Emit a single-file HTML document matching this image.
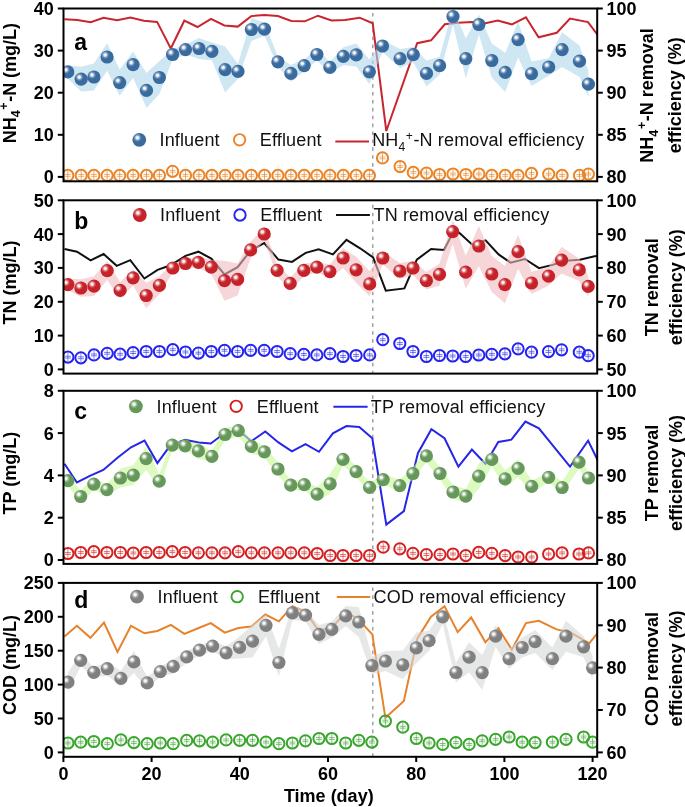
<!DOCTYPE html>
<html><head><meta charset="utf-8"><style>
html,body{margin:0;padding:0;background:#fff;}
svg{display:block;will-change:transform;}
text{font-family:"Liberation Sans",sans-serif;}
.tk{font-size:18px;font-weight:bold;fill:#000;}
.lt{font-size:23px;font-weight:bold;fill:#000;}
.lg{font-size:18px;letter-spacing:0.15px;fill:#111;}
</style></head><body>
<svg width="685" height="807" viewBox="0 0 685 807">
<defs>
<radialGradient id="hl" cx="0.5" cy="0.5" r="0.5"><stop offset="0" stop-color="#fff" stop-opacity="1"/><stop offset="0.3" stop-color="#fff" stop-opacity="0.88"/><stop offset="0.6" stop-color="#fff" stop-opacity="0.35"/><stop offset="1" stop-color="#fff" stop-opacity="0"/></radialGradient>
<clipPath id="clipa"><rect x="63.5" y="8.5" width="533.7" height="172.8"/></clipPath>
<clipPath id="clipb"><rect x="63.5" y="200.3" width="533.7" height="173.3"/></clipPath>
<clipPath id="clipc"><rect x="63.5" y="390.8" width="533.7" height="173.09999999999997"/></clipPath>
<clipPath id="clipd"><rect x="63.5" y="582.9" width="533.7" height="173.89999999999998"/></clipPath>
</defs>
<g clip-path="url(#clipa)">
<line x1="372.8" y1="8.5" x2="372.8" y2="181.3" stroke="#9c9c9c" stroke-width="1.4" stroke-dasharray="3.6,4.3" stroke-dashoffset="3.4"/>
<polyline points="64.5,19.2 77.4,19.9 90.7,22.3 103.5,17.8 117.2,20.3 130.5,17.6 143.8,20.7 157.1,21.9 170.8,48.5 184.3,20.7 197.5,27.0 211.0,18.8 224.4,25.5 237.8,26.6 251.2,16.1 264.5,15.0 277.9,16.1 291.3,21.0 304.7,21.3 318.0,15.7 331.5,20.4 345.1,19.9 359.6,17.7 372.7,23.3 386.3,131.0 417.2,43.2 431.1,40.3 444.8,24.3 458.1,22.7 472.0,21.9 485.4,23.3 497.8,20.6 511.9,24.4 525.9,17.3 538.6,37.3 556.8,32.8 570.0,18.6 588.0,22.1 600.0,38.0" fill="none" stroke="#c9252f" stroke-width="2" stroke-linejoin="miter"/>
<polygon points="67.8,65.3 81.2,66.8 93.9,63.5 107.1,43.2 119.7,69.5 133.1,51.6 146.5,72.9 159.4,61.1 172.6,49.5 185.5,44.6 199.0,38.0 211.9,42.4 225.1,46.6 238.0,64.1 251.4,18.0 264.5,22.5 277.9,56.8 290.9,65.1 304.2,59.6 316.9,48.5 329.9,61.9 343.3,47.3 356.2,43.4 369.4,59.4 382.5,40.0 400.1,49.1 413.3,46.9 426.5,60.4 439.6,56.7 453.0,8.5 465.8,38.6 478.9,14.5 491.8,43.5 505.2,52.9 518.1,21.6 531.5,61.4 548.7,58.3 562.1,32.3 579.5,45.4 588.4,71.2 588.4,97.2 579.5,77.0 562.1,66.9 548.7,75.7 531.5,86.0 518.1,57.6 505.2,91.9 491.8,77.5 478.9,34.5 465.8,78.6 453.0,24.5 439.6,74.7 426.5,86.4 413.3,62.3 400.1,68.1 382.5,52.0 369.4,84.2 356.2,66.4 343.3,65.3 329.9,72.9 316.9,60.5 304.2,71.6 290.9,81.7 277.9,66.8 264.5,35.7 251.4,41.0 238.0,78.7 225.1,92.6 211.9,60.4 199.0,59.0 185.5,54.6 172.6,59.5 159.4,93.9 146.5,107.9 133.1,77.8 119.7,95.7 107.1,70.8 93.9,90.5 81.2,91.6 67.8,78.5" fill="rgb(175,213,235)" fill-opacity="0.6"/>
<line x1="67.8" y1="170.8" x2="67.8" y2="180.0" stroke="#dca060" stroke-width="0.9"/>
<line x1="64.8" y1="174.5" x2="70.8" y2="174.5" stroke="#ec8426" stroke-width="0.8" stroke-opacity="0.8"/>
<line x1="64.8" y1="176.3" x2="70.8" y2="176.3" stroke="#ec8426" stroke-width="0.8" stroke-opacity="0.8"/>
<circle cx="67.8" cy="175.4" r="5.6" fill="none" stroke="#ec8426" stroke-width="2"/>
<line x1="81.2" y1="170.8" x2="81.2" y2="180.0" stroke="#dca060" stroke-width="0.9"/>
<line x1="78.2" y1="174.5" x2="84.2" y2="174.5" stroke="#ec8426" stroke-width="0.8" stroke-opacity="0.8"/>
<line x1="78.2" y1="176.3" x2="84.2" y2="176.3" stroke="#ec8426" stroke-width="0.8" stroke-opacity="0.8"/>
<circle cx="81.2" cy="175.4" r="5.6" fill="none" stroke="#ec8426" stroke-width="2"/>
<line x1="93.9" y1="170.8" x2="93.9" y2="180.0" stroke="#dca060" stroke-width="0.9"/>
<line x1="90.9" y1="174.5" x2="96.9" y2="174.5" stroke="#ec8426" stroke-width="0.8" stroke-opacity="0.8"/>
<line x1="90.9" y1="176.3" x2="96.9" y2="176.3" stroke="#ec8426" stroke-width="0.8" stroke-opacity="0.8"/>
<circle cx="93.9" cy="175.4" r="5.6" fill="none" stroke="#ec8426" stroke-width="2"/>
<line x1="107.1" y1="170.8" x2="107.1" y2="180.0" stroke="#dca060" stroke-width="0.9"/>
<line x1="104.1" y1="174.5" x2="110.1" y2="174.5" stroke="#ec8426" stroke-width="0.8" stroke-opacity="0.8"/>
<line x1="104.1" y1="176.3" x2="110.1" y2="176.3" stroke="#ec8426" stroke-width="0.8" stroke-opacity="0.8"/>
<circle cx="107.1" cy="175.4" r="5.6" fill="none" stroke="#ec8426" stroke-width="2"/>
<line x1="119.7" y1="170.8" x2="119.7" y2="180.0" stroke="#dca060" stroke-width="0.9"/>
<line x1="116.7" y1="174.5" x2="122.7" y2="174.5" stroke="#ec8426" stroke-width="0.8" stroke-opacity="0.8"/>
<line x1="116.7" y1="176.3" x2="122.7" y2="176.3" stroke="#ec8426" stroke-width="0.8" stroke-opacity="0.8"/>
<circle cx="119.7" cy="175.4" r="5.6" fill="none" stroke="#ec8426" stroke-width="2"/>
<line x1="133.1" y1="170.8" x2="133.1" y2="180.0" stroke="#dca060" stroke-width="0.9"/>
<line x1="130.1" y1="174.5" x2="136.1" y2="174.5" stroke="#ec8426" stroke-width="0.8" stroke-opacity="0.8"/>
<line x1="130.1" y1="176.3" x2="136.1" y2="176.3" stroke="#ec8426" stroke-width="0.8" stroke-opacity="0.8"/>
<circle cx="133.1" cy="175.4" r="5.6" fill="none" stroke="#ec8426" stroke-width="2"/>
<line x1="146.5" y1="170.8" x2="146.5" y2="180.0" stroke="#dca060" stroke-width="0.9"/>
<line x1="143.5" y1="174.5" x2="149.5" y2="174.5" stroke="#ec8426" stroke-width="0.8" stroke-opacity="0.8"/>
<line x1="143.5" y1="176.3" x2="149.5" y2="176.3" stroke="#ec8426" stroke-width="0.8" stroke-opacity="0.8"/>
<circle cx="146.5" cy="175.4" r="5.6" fill="none" stroke="#ec8426" stroke-width="2"/>
<line x1="159.4" y1="170.8" x2="159.4" y2="180.0" stroke="#dca060" stroke-width="0.9"/>
<line x1="156.4" y1="174.5" x2="162.4" y2="174.5" stroke="#ec8426" stroke-width="0.8" stroke-opacity="0.8"/>
<line x1="156.4" y1="176.3" x2="162.4" y2="176.3" stroke="#ec8426" stroke-width="0.8" stroke-opacity="0.8"/>
<circle cx="159.4" cy="175.4" r="5.6" fill="none" stroke="#ec8426" stroke-width="2"/>
<line x1="172.6" y1="166.7" x2="172.6" y2="175.9" stroke="#dca060" stroke-width="0.9"/>
<line x1="169.6" y1="170.4" x2="175.6" y2="170.4" stroke="#ec8426" stroke-width="0.8" stroke-opacity="0.8"/>
<line x1="169.6" y1="172.2" x2="175.6" y2="172.2" stroke="#ec8426" stroke-width="0.8" stroke-opacity="0.8"/>
<circle cx="172.6" cy="171.3" r="5.6" fill="none" stroke="#ec8426" stroke-width="2"/>
<line x1="185.5" y1="170.8" x2="185.5" y2="180.0" stroke="#dca060" stroke-width="0.9"/>
<line x1="182.5" y1="174.5" x2="188.5" y2="174.5" stroke="#ec8426" stroke-width="0.8" stroke-opacity="0.8"/>
<line x1="182.5" y1="176.3" x2="188.5" y2="176.3" stroke="#ec8426" stroke-width="0.8" stroke-opacity="0.8"/>
<circle cx="185.5" cy="175.4" r="5.6" fill="none" stroke="#ec8426" stroke-width="2"/>
<line x1="199.0" y1="170.8" x2="199.0" y2="180.0" stroke="#dca060" stroke-width="0.9"/>
<line x1="196.0" y1="174.5" x2="202.0" y2="174.5" stroke="#ec8426" stroke-width="0.8" stroke-opacity="0.8"/>
<line x1="196.0" y1="176.3" x2="202.0" y2="176.3" stroke="#ec8426" stroke-width="0.8" stroke-opacity="0.8"/>
<circle cx="199.0" cy="175.4" r="5.6" fill="none" stroke="#ec8426" stroke-width="2"/>
<line x1="211.9" y1="170.8" x2="211.9" y2="180.0" stroke="#dca060" stroke-width="0.9"/>
<line x1="208.9" y1="174.5" x2="214.9" y2="174.5" stroke="#ec8426" stroke-width="0.8" stroke-opacity="0.8"/>
<line x1="208.9" y1="176.3" x2="214.9" y2="176.3" stroke="#ec8426" stroke-width="0.8" stroke-opacity="0.8"/>
<circle cx="211.9" cy="175.4" r="5.6" fill="none" stroke="#ec8426" stroke-width="2"/>
<line x1="225.1" y1="170.8" x2="225.1" y2="180.0" stroke="#dca060" stroke-width="0.9"/>
<line x1="222.1" y1="174.5" x2="228.1" y2="174.5" stroke="#ec8426" stroke-width="0.8" stroke-opacity="0.8"/>
<line x1="222.1" y1="176.3" x2="228.1" y2="176.3" stroke="#ec8426" stroke-width="0.8" stroke-opacity="0.8"/>
<circle cx="225.1" cy="175.4" r="5.6" fill="none" stroke="#ec8426" stroke-width="2"/>
<line x1="238.0" y1="170.8" x2="238.0" y2="180.0" stroke="#dca060" stroke-width="0.9"/>
<line x1="235.0" y1="174.5" x2="241.0" y2="174.5" stroke="#ec8426" stroke-width="0.8" stroke-opacity="0.8"/>
<line x1="235.0" y1="176.3" x2="241.0" y2="176.3" stroke="#ec8426" stroke-width="0.8" stroke-opacity="0.8"/>
<circle cx="238.0" cy="175.4" r="5.6" fill="none" stroke="#ec8426" stroke-width="2"/>
<line x1="251.4" y1="170.8" x2="251.4" y2="180.0" stroke="#dca060" stroke-width="0.9"/>
<line x1="248.4" y1="174.5" x2="254.4" y2="174.5" stroke="#ec8426" stroke-width="0.8" stroke-opacity="0.8"/>
<line x1="248.4" y1="176.3" x2="254.4" y2="176.3" stroke="#ec8426" stroke-width="0.8" stroke-opacity="0.8"/>
<circle cx="251.4" cy="175.4" r="5.6" fill="none" stroke="#ec8426" stroke-width="2"/>
<line x1="264.5" y1="170.8" x2="264.5" y2="180.0" stroke="#dca060" stroke-width="0.9"/>
<line x1="261.5" y1="174.5" x2="267.5" y2="174.5" stroke="#ec8426" stroke-width="0.8" stroke-opacity="0.8"/>
<line x1="261.5" y1="176.3" x2="267.5" y2="176.3" stroke="#ec8426" stroke-width="0.8" stroke-opacity="0.8"/>
<circle cx="264.5" cy="175.4" r="5.6" fill="none" stroke="#ec8426" stroke-width="2"/>
<line x1="277.9" y1="170.8" x2="277.9" y2="180.0" stroke="#dca060" stroke-width="0.9"/>
<line x1="274.9" y1="174.5" x2="280.9" y2="174.5" stroke="#ec8426" stroke-width="0.8" stroke-opacity="0.8"/>
<line x1="274.9" y1="176.3" x2="280.9" y2="176.3" stroke="#ec8426" stroke-width="0.8" stroke-opacity="0.8"/>
<circle cx="277.9" cy="175.4" r="5.6" fill="none" stroke="#ec8426" stroke-width="2"/>
<line x1="290.9" y1="170.8" x2="290.9" y2="180.0" stroke="#dca060" stroke-width="0.9"/>
<line x1="287.9" y1="174.5" x2="293.9" y2="174.5" stroke="#ec8426" stroke-width="0.8" stroke-opacity="0.8"/>
<line x1="287.9" y1="176.3" x2="293.9" y2="176.3" stroke="#ec8426" stroke-width="0.8" stroke-opacity="0.8"/>
<circle cx="290.9" cy="175.4" r="5.6" fill="none" stroke="#ec8426" stroke-width="2"/>
<line x1="304.2" y1="170.8" x2="304.2" y2="180.0" stroke="#dca060" stroke-width="0.9"/>
<line x1="301.2" y1="174.5" x2="307.2" y2="174.5" stroke="#ec8426" stroke-width="0.8" stroke-opacity="0.8"/>
<line x1="301.2" y1="176.3" x2="307.2" y2="176.3" stroke="#ec8426" stroke-width="0.8" stroke-opacity="0.8"/>
<circle cx="304.2" cy="175.4" r="5.6" fill="none" stroke="#ec8426" stroke-width="2"/>
<line x1="316.9" y1="170.8" x2="316.9" y2="180.0" stroke="#dca060" stroke-width="0.9"/>
<line x1="313.9" y1="174.5" x2="319.9" y2="174.5" stroke="#ec8426" stroke-width="0.8" stroke-opacity="0.8"/>
<line x1="313.9" y1="176.3" x2="319.9" y2="176.3" stroke="#ec8426" stroke-width="0.8" stroke-opacity="0.8"/>
<circle cx="316.9" cy="175.4" r="5.6" fill="none" stroke="#ec8426" stroke-width="2"/>
<line x1="329.9" y1="170.8" x2="329.9" y2="180.0" stroke="#dca060" stroke-width="0.9"/>
<line x1="326.9" y1="174.5" x2="332.9" y2="174.5" stroke="#ec8426" stroke-width="0.8" stroke-opacity="0.8"/>
<line x1="326.9" y1="176.3" x2="332.9" y2="176.3" stroke="#ec8426" stroke-width="0.8" stroke-opacity="0.8"/>
<circle cx="329.9" cy="175.4" r="5.6" fill="none" stroke="#ec8426" stroke-width="2"/>
<line x1="343.3" y1="170.8" x2="343.3" y2="180.0" stroke="#dca060" stroke-width="0.9"/>
<line x1="340.3" y1="174.5" x2="346.3" y2="174.5" stroke="#ec8426" stroke-width="0.8" stroke-opacity="0.8"/>
<line x1="340.3" y1="176.3" x2="346.3" y2="176.3" stroke="#ec8426" stroke-width="0.8" stroke-opacity="0.8"/>
<circle cx="343.3" cy="175.4" r="5.6" fill="none" stroke="#ec8426" stroke-width="2"/>
<line x1="356.2" y1="170.8" x2="356.2" y2="180.0" stroke="#dca060" stroke-width="0.9"/>
<line x1="353.2" y1="174.5" x2="359.2" y2="174.5" stroke="#ec8426" stroke-width="0.8" stroke-opacity="0.8"/>
<line x1="353.2" y1="176.3" x2="359.2" y2="176.3" stroke="#ec8426" stroke-width="0.8" stroke-opacity="0.8"/>
<circle cx="356.2" cy="175.4" r="5.6" fill="none" stroke="#ec8426" stroke-width="2"/>
<line x1="369.4" y1="170.8" x2="369.4" y2="180.0" stroke="#dca060" stroke-width="0.9"/>
<line x1="366.4" y1="174.5" x2="372.4" y2="174.5" stroke="#ec8426" stroke-width="0.8" stroke-opacity="0.8"/>
<line x1="366.4" y1="176.3" x2="372.4" y2="176.3" stroke="#ec8426" stroke-width="0.8" stroke-opacity="0.8"/>
<circle cx="369.4" cy="175.4" r="5.6" fill="none" stroke="#ec8426" stroke-width="2"/>
<line x1="382.5" y1="153.3" x2="382.5" y2="162.5" stroke="#dca060" stroke-width="0.9"/>
<line x1="379.5" y1="157.0" x2="385.5" y2="157.0" stroke="#ec8426" stroke-width="0.8" stroke-opacity="0.8"/>
<line x1="379.5" y1="158.8" x2="385.5" y2="158.8" stroke="#ec8426" stroke-width="0.8" stroke-opacity="0.8"/>
<circle cx="382.5" cy="157.9" r="5.6" fill="none" stroke="#ec8426" stroke-width="2"/>
<line x1="400.1" y1="162.0" x2="400.1" y2="171.2" stroke="#dca060" stroke-width="0.9"/>
<line x1="397.1" y1="165.7" x2="403.1" y2="165.7" stroke="#ec8426" stroke-width="0.8" stroke-opacity="0.8"/>
<line x1="397.1" y1="167.5" x2="403.1" y2="167.5" stroke="#ec8426" stroke-width="0.8" stroke-opacity="0.8"/>
<circle cx="400.1" cy="166.6" r="5.6" fill="none" stroke="#ec8426" stroke-width="2"/>
<line x1="413.3" y1="167.8" x2="413.3" y2="177.0" stroke="#dca060" stroke-width="0.9"/>
<line x1="410.3" y1="171.5" x2="416.3" y2="171.5" stroke="#ec8426" stroke-width="0.8" stroke-opacity="0.8"/>
<line x1="410.3" y1="173.3" x2="416.3" y2="173.3" stroke="#ec8426" stroke-width="0.8" stroke-opacity="0.8"/>
<circle cx="413.3" cy="172.4" r="5.6" fill="none" stroke="#ec8426" stroke-width="2"/>
<line x1="426.5" y1="168.5" x2="426.5" y2="177.7" stroke="#dca060" stroke-width="0.9"/>
<line x1="423.5" y1="172.2" x2="429.5" y2="172.2" stroke="#ec8426" stroke-width="0.8" stroke-opacity="0.8"/>
<line x1="423.5" y1="174.0" x2="429.5" y2="174.0" stroke="#ec8426" stroke-width="0.8" stroke-opacity="0.8"/>
<circle cx="426.5" cy="173.1" r="5.6" fill="none" stroke="#ec8426" stroke-width="2"/>
<line x1="439.6" y1="169.9" x2="439.6" y2="179.1" stroke="#dca060" stroke-width="0.9"/>
<line x1="436.6" y1="173.6" x2="442.6" y2="173.6" stroke="#ec8426" stroke-width="0.8" stroke-opacity="0.8"/>
<line x1="436.6" y1="175.4" x2="442.6" y2="175.4" stroke="#ec8426" stroke-width="0.8" stroke-opacity="0.8"/>
<circle cx="439.6" cy="174.5" r="5.6" fill="none" stroke="#ec8426" stroke-width="2"/>
<line x1="453.0" y1="169.4" x2="453.0" y2="178.6" stroke="#dca060" stroke-width="0.9"/>
<line x1="450.0" y1="173.1" x2="456.0" y2="173.1" stroke="#ec8426" stroke-width="0.8" stroke-opacity="0.8"/>
<line x1="450.0" y1="174.9" x2="456.0" y2="174.9" stroke="#ec8426" stroke-width="0.8" stroke-opacity="0.8"/>
<circle cx="453.0" cy="174.0" r="5.6" fill="none" stroke="#ec8426" stroke-width="2"/>
<line x1="465.8" y1="169.9" x2="465.8" y2="179.1" stroke="#dca060" stroke-width="0.9"/>
<line x1="462.8" y1="173.6" x2="468.8" y2="173.6" stroke="#ec8426" stroke-width="0.8" stroke-opacity="0.8"/>
<line x1="462.8" y1="175.4" x2="468.8" y2="175.4" stroke="#ec8426" stroke-width="0.8" stroke-opacity="0.8"/>
<circle cx="465.8" cy="174.5" r="5.6" fill="none" stroke="#ec8426" stroke-width="2"/>
<line x1="478.9" y1="169.4" x2="478.9" y2="178.6" stroke="#dca060" stroke-width="0.9"/>
<line x1="475.9" y1="173.1" x2="481.9" y2="173.1" stroke="#ec8426" stroke-width="0.8" stroke-opacity="0.8"/>
<line x1="475.9" y1="174.9" x2="481.9" y2="174.9" stroke="#ec8426" stroke-width="0.8" stroke-opacity="0.8"/>
<circle cx="478.9" cy="174.0" r="5.6" fill="none" stroke="#ec8426" stroke-width="2"/>
<line x1="491.8" y1="170.8" x2="491.8" y2="180.0" stroke="#dca060" stroke-width="0.9"/>
<line x1="488.8" y1="174.5" x2="494.8" y2="174.5" stroke="#ec8426" stroke-width="0.8" stroke-opacity="0.8"/>
<line x1="488.8" y1="176.3" x2="494.8" y2="176.3" stroke="#ec8426" stroke-width="0.8" stroke-opacity="0.8"/>
<circle cx="491.8" cy="175.4" r="5.6" fill="none" stroke="#ec8426" stroke-width="2"/>
<line x1="505.2" y1="170.8" x2="505.2" y2="180.0" stroke="#dca060" stroke-width="0.9"/>
<line x1="502.2" y1="174.5" x2="508.2" y2="174.5" stroke="#ec8426" stroke-width="0.8" stroke-opacity="0.8"/>
<line x1="502.2" y1="176.3" x2="508.2" y2="176.3" stroke="#ec8426" stroke-width="0.8" stroke-opacity="0.8"/>
<circle cx="505.2" cy="175.4" r="5.6" fill="none" stroke="#ec8426" stroke-width="2"/>
<line x1="518.1" y1="170.8" x2="518.1" y2="180.0" stroke="#dca060" stroke-width="0.9"/>
<line x1="515.1" y1="174.5" x2="521.1" y2="174.5" stroke="#ec8426" stroke-width="0.8" stroke-opacity="0.8"/>
<line x1="515.1" y1="176.3" x2="521.1" y2="176.3" stroke="#ec8426" stroke-width="0.8" stroke-opacity="0.8"/>
<circle cx="518.1" cy="175.4" r="5.6" fill="none" stroke="#ec8426" stroke-width="2"/>
<line x1="531.5" y1="168.8" x2="531.5" y2="178.0" stroke="#dca060" stroke-width="0.9"/>
<line x1="528.5" y1="172.5" x2="534.5" y2="172.5" stroke="#ec8426" stroke-width="0.8" stroke-opacity="0.8"/>
<line x1="528.5" y1="174.3" x2="534.5" y2="174.3" stroke="#ec8426" stroke-width="0.8" stroke-opacity="0.8"/>
<circle cx="531.5" cy="173.4" r="5.6" fill="none" stroke="#ec8426" stroke-width="2"/>
<line x1="548.7" y1="169.5" x2="548.7" y2="178.7" stroke="#dca060" stroke-width="0.9"/>
<line x1="545.7" y1="173.2" x2="551.7" y2="173.2" stroke="#ec8426" stroke-width="0.8" stroke-opacity="0.8"/>
<line x1="545.7" y1="175.0" x2="551.7" y2="175.0" stroke="#ec8426" stroke-width="0.8" stroke-opacity="0.8"/>
<circle cx="548.7" cy="174.1" r="5.6" fill="none" stroke="#ec8426" stroke-width="2"/>
<line x1="562.1" y1="170.8" x2="562.1" y2="180.0" stroke="#dca060" stroke-width="0.9"/>
<line x1="559.1" y1="174.5" x2="565.1" y2="174.5" stroke="#ec8426" stroke-width="0.8" stroke-opacity="0.8"/>
<line x1="559.1" y1="176.3" x2="565.1" y2="176.3" stroke="#ec8426" stroke-width="0.8" stroke-opacity="0.8"/>
<circle cx="562.1" cy="175.4" r="5.6" fill="none" stroke="#ec8426" stroke-width="2"/>
<line x1="579.5" y1="170.8" x2="579.5" y2="180.0" stroke="#dca060" stroke-width="0.9"/>
<line x1="576.5" y1="174.5" x2="582.5" y2="174.5" stroke="#ec8426" stroke-width="0.8" stroke-opacity="0.8"/>
<line x1="576.5" y1="176.3" x2="582.5" y2="176.3" stroke="#ec8426" stroke-width="0.8" stroke-opacity="0.8"/>
<circle cx="579.5" cy="175.4" r="5.6" fill="none" stroke="#ec8426" stroke-width="2"/>
<line x1="588.4" y1="169.5" x2="588.4" y2="178.7" stroke="#dca060" stroke-width="0.9"/>
<line x1="585.4" y1="173.2" x2="591.4" y2="173.2" stroke="#ec8426" stroke-width="0.8" stroke-opacity="0.8"/>
<line x1="585.4" y1="175.0" x2="591.4" y2="175.0" stroke="#ec8426" stroke-width="0.8" stroke-opacity="0.8"/>
<circle cx="588.4" cy="174.1" r="5.6" fill="none" stroke="#ec8426" stroke-width="2"/>
<circle cx="67.8" cy="71.9" r="6.6" fill="#3a6b9f"/>
<circle cx="65.9" cy="69.8" r="4.09" fill="url(#hl)"/>
<circle cx="81.2" cy="79.2" r="6.6" fill="#3a6b9f"/>
<circle cx="79.3" cy="77.1" r="4.09" fill="url(#hl)"/>
<circle cx="93.9" cy="77.0" r="6.6" fill="#3a6b9f"/>
<circle cx="92.0" cy="74.9" r="4.09" fill="url(#hl)"/>
<circle cx="107.1" cy="57.0" r="6.6" fill="#3a6b9f"/>
<circle cx="105.2" cy="54.9" r="4.09" fill="url(#hl)"/>
<circle cx="119.7" cy="82.6" r="6.6" fill="#3a6b9f"/>
<circle cx="117.8" cy="80.5" r="4.09" fill="url(#hl)"/>
<circle cx="133.1" cy="64.7" r="6.6" fill="#3a6b9f"/>
<circle cx="131.2" cy="62.6" r="4.09" fill="url(#hl)"/>
<circle cx="146.5" cy="90.4" r="6.6" fill="#3a6b9f"/>
<circle cx="144.6" cy="88.3" r="4.09" fill="url(#hl)"/>
<circle cx="159.4" cy="77.5" r="6.6" fill="#3a6b9f"/>
<circle cx="157.5" cy="75.4" r="4.09" fill="url(#hl)"/>
<circle cx="172.6" cy="54.5" r="6.6" fill="#3a6b9f"/>
<circle cx="170.7" cy="52.4" r="4.09" fill="url(#hl)"/>
<circle cx="185.5" cy="49.6" r="6.6" fill="#3a6b9f"/>
<circle cx="183.6" cy="47.5" r="4.09" fill="url(#hl)"/>
<circle cx="199.0" cy="48.5" r="6.6" fill="#3a6b9f"/>
<circle cx="197.1" cy="46.4" r="4.09" fill="url(#hl)"/>
<circle cx="211.9" cy="51.4" r="6.6" fill="#3a6b9f"/>
<circle cx="210.0" cy="49.3" r="4.09" fill="url(#hl)"/>
<circle cx="225.1" cy="69.6" r="6.6" fill="#3a6b9f"/>
<circle cx="223.2" cy="67.5" r="4.09" fill="url(#hl)"/>
<circle cx="238.0" cy="71.4" r="6.6" fill="#3a6b9f"/>
<circle cx="236.1" cy="69.3" r="4.09" fill="url(#hl)"/>
<circle cx="251.4" cy="29.5" r="6.6" fill="#3a6b9f"/>
<circle cx="249.5" cy="27.4" r="4.09" fill="url(#hl)"/>
<circle cx="264.5" cy="29.1" r="6.6" fill="#3a6b9f"/>
<circle cx="262.6" cy="27.0" r="4.09" fill="url(#hl)"/>
<circle cx="277.9" cy="61.8" r="6.6" fill="#3a6b9f"/>
<circle cx="276.0" cy="59.7" r="4.09" fill="url(#hl)"/>
<circle cx="290.9" cy="73.4" r="6.6" fill="#3a6b9f"/>
<circle cx="289.0" cy="71.3" r="4.09" fill="url(#hl)"/>
<circle cx="304.2" cy="65.6" r="6.6" fill="#3a6b9f"/>
<circle cx="302.3" cy="63.5" r="4.09" fill="url(#hl)"/>
<circle cx="316.9" cy="54.5" r="6.6" fill="#3a6b9f"/>
<circle cx="315.0" cy="52.4" r="4.09" fill="url(#hl)"/>
<circle cx="329.9" cy="67.4" r="6.6" fill="#3a6b9f"/>
<circle cx="328.0" cy="65.3" r="4.09" fill="url(#hl)"/>
<circle cx="343.3" cy="56.3" r="6.6" fill="#3a6b9f"/>
<circle cx="341.4" cy="54.2" r="4.09" fill="url(#hl)"/>
<circle cx="356.2" cy="54.9" r="6.6" fill="#3a6b9f"/>
<circle cx="354.3" cy="52.8" r="4.09" fill="url(#hl)"/>
<circle cx="369.4" cy="71.8" r="6.6" fill="#3a6b9f"/>
<circle cx="367.5" cy="69.7" r="4.09" fill="url(#hl)"/>
<circle cx="382.5" cy="46.0" r="6.6" fill="#3a6b9f"/>
<circle cx="380.6" cy="43.9" r="4.09" fill="url(#hl)"/>
<circle cx="400.1" cy="58.6" r="6.6" fill="#3a6b9f"/>
<circle cx="398.2" cy="56.5" r="4.09" fill="url(#hl)"/>
<circle cx="413.3" cy="54.6" r="6.6" fill="#3a6b9f"/>
<circle cx="411.4" cy="52.5" r="4.09" fill="url(#hl)"/>
<circle cx="426.5" cy="73.4" r="6.6" fill="#3a6b9f"/>
<circle cx="424.6" cy="71.3" r="4.09" fill="url(#hl)"/>
<circle cx="439.6" cy="65.7" r="6.6" fill="#3a6b9f"/>
<circle cx="437.7" cy="63.6" r="4.09" fill="url(#hl)"/>
<circle cx="453.0" cy="16.5" r="6.6" fill="#3a6b9f"/>
<circle cx="451.1" cy="14.4" r="4.09" fill="url(#hl)"/>
<circle cx="465.8" cy="58.6" r="6.6" fill="#3a6b9f"/>
<circle cx="463.9" cy="56.5" r="4.09" fill="url(#hl)"/>
<circle cx="478.9" cy="24.5" r="6.6" fill="#3a6b9f"/>
<circle cx="477.0" cy="22.4" r="4.09" fill="url(#hl)"/>
<circle cx="491.8" cy="60.5" r="6.6" fill="#3a6b9f"/>
<circle cx="489.9" cy="58.4" r="4.09" fill="url(#hl)"/>
<circle cx="505.2" cy="72.4" r="6.6" fill="#3a6b9f"/>
<circle cx="503.3" cy="70.3" r="4.09" fill="url(#hl)"/>
<circle cx="518.1" cy="39.6" r="6.6" fill="#3a6b9f"/>
<circle cx="516.2" cy="37.5" r="4.09" fill="url(#hl)"/>
<circle cx="531.5" cy="73.7" r="6.6" fill="#3a6b9f"/>
<circle cx="529.6" cy="71.6" r="4.09" fill="url(#hl)"/>
<circle cx="548.7" cy="67.0" r="6.6" fill="#3a6b9f"/>
<circle cx="546.8" cy="64.9" r="4.09" fill="url(#hl)"/>
<circle cx="562.1" cy="49.6" r="6.6" fill="#3a6b9f"/>
<circle cx="560.2" cy="47.5" r="4.09" fill="url(#hl)"/>
<circle cx="579.5" cy="61.2" r="6.6" fill="#3a6b9f"/>
<circle cx="577.6" cy="59.1" r="4.09" fill="url(#hl)"/>
<circle cx="588.4" cy="84.2" r="6.6" fill="#3a6b9f"/>
<circle cx="586.5" cy="82.1" r="4.09" fill="url(#hl)"/>
</g>
<rect x="63.5" y="8.5" width="533.7" height="172.8" fill="none" stroke="#000" stroke-width="2"/>
<g clip-path="url(#clipb)">
<line x1="372.8" y1="200.3" x2="372.8" y2="373.6" stroke="#9c9c9c" stroke-width="1.4" stroke-dasharray="3.6,4.3" stroke-dashoffset="3.4"/>
<polyline points="64.5,249.0 77.0,251.7 90.6,260.3 103.6,254.0 116.7,265.8 130.3,260.1 144.4,278.5 157.6,269.9 170.5,265.3 185.5,255.8 198.4,251.7 211.3,258.5 224.5,274.4 237.6,267.1 250.6,250.6 264.2,243.1 278.4,259.6 292.0,261.9 305.7,252.8 318.6,249.4 332.9,254.4 346.5,239.9 360.1,248.3 373.1,257.4 385.8,290.7 404.4,288.4 416.8,259.6 431.1,249.0 444.0,249.9 455.0,228.6 459.5,233.1 472.0,244.5 485.6,240.4 498.6,254.4 510.6,262.6 524.9,259.0 539.0,268.1 552.6,264.9 566.2,260.8 579.8,259.7 594.6,256.3 600.0,256.0" fill="none" stroke="#111111" stroke-width="2" stroke-linejoin="miter"/>
<polygon points="67.9,278.6 80.9,279.3 94.0,276.4 107.2,261.1 120.1,281.9 133.1,269.8 146.2,282.8 159.4,276.3 172.8,263.5 185.5,259.5 198.4,256.3 211.3,260.1 224.5,260.7 237.6,263.4 250.6,241.7 264.2,228.0 277.1,264.3 290.2,277.4 303.8,263.8 316.8,262.1 329.9,264.6 343.1,248.0 356.1,256.8 369.7,271.2 382.8,251.5 399.8,263.0 413.0,261.0 426.4,272.0 439.5,263.4 452.7,219.7 465.7,255.7 478.8,226.0 491.8,256.0 504.9,266.0 518.1,234.7 531.5,272.0 548.5,266.9 561.6,246.8 579.3,258.8 588.2,275.8 588.2,297.0 579.3,281.0 561.6,273.4 548.5,285.5 531.5,294.0 518.1,268.7 504.9,303.2 491.8,292.0 478.8,266.0 465.7,288.7 452.7,243.7 439.5,285.4 426.4,289.4 413.0,275.0 399.8,279.0 382.8,264.5 369.7,296.6 356.1,282.8 343.1,268.0 329.9,278.6 316.8,272.1 303.8,276.8 290.2,289.4 277.1,276.3 264.2,240.0 250.6,258.1 237.6,295.4 224.5,300.7 211.3,274.1 198.4,268.3 185.5,267.5 172.8,272.5 159.4,294.3 146.2,308.2 133.1,285.8 120.1,298.7 107.2,280.1 94.0,296.0 80.9,296.7 67.9,290.6" fill="rgb(240,187,190)" fill-opacity="0.6"/>
<line x1="67.9" y1="352.5" x2="67.9" y2="361.7" stroke="#8080f0" stroke-width="0.9"/>
<line x1="64.9" y1="356.2" x2="70.9" y2="356.2" stroke="#2424f0" stroke-width="0.8" stroke-opacity="0.8"/>
<line x1="64.9" y1="358.0" x2="70.9" y2="358.0" stroke="#2424f0" stroke-width="0.8" stroke-opacity="0.8"/>
<circle cx="67.9" cy="357.1" r="5.6" fill="none" stroke="#2424f0" stroke-width="2"/>
<line x1="80.9" y1="353.2" x2="80.9" y2="362.4" stroke="#8080f0" stroke-width="0.9"/>
<line x1="77.9" y1="356.9" x2="83.9" y2="356.9" stroke="#2424f0" stroke-width="0.8" stroke-opacity="0.8"/>
<line x1="77.9" y1="358.7" x2="83.9" y2="358.7" stroke="#2424f0" stroke-width="0.8" stroke-opacity="0.8"/>
<circle cx="80.9" cy="357.8" r="5.6" fill="none" stroke="#2424f0" stroke-width="2"/>
<line x1="94.0" y1="350.3" x2="94.0" y2="359.5" stroke="#8080f0" stroke-width="0.9"/>
<line x1="91.0" y1="354.0" x2="97.0" y2="354.0" stroke="#2424f0" stroke-width="0.8" stroke-opacity="0.8"/>
<line x1="91.0" y1="355.8" x2="97.0" y2="355.8" stroke="#2424f0" stroke-width="0.8" stroke-opacity="0.8"/>
<circle cx="94.0" cy="354.9" r="5.6" fill="none" stroke="#2424f0" stroke-width="2"/>
<line x1="107.2" y1="348.7" x2="107.2" y2="357.9" stroke="#8080f0" stroke-width="0.9"/>
<line x1="104.2" y1="352.4" x2="110.2" y2="352.4" stroke="#2424f0" stroke-width="0.8" stroke-opacity="0.8"/>
<line x1="104.2" y1="354.2" x2="110.2" y2="354.2" stroke="#2424f0" stroke-width="0.8" stroke-opacity="0.8"/>
<circle cx="107.2" cy="353.3" r="5.6" fill="none" stroke="#2424f0" stroke-width="2"/>
<line x1="120.1" y1="349.6" x2="120.1" y2="358.8" stroke="#8080f0" stroke-width="0.9"/>
<line x1="117.1" y1="353.3" x2="123.1" y2="353.3" stroke="#2424f0" stroke-width="0.8" stroke-opacity="0.8"/>
<line x1="117.1" y1="355.1" x2="123.1" y2="355.1" stroke="#2424f0" stroke-width="0.8" stroke-opacity="0.8"/>
<circle cx="120.1" cy="354.2" r="5.6" fill="none" stroke="#2424f0" stroke-width="2"/>
<line x1="133.1" y1="348.0" x2="133.1" y2="357.2" stroke="#8080f0" stroke-width="0.9"/>
<line x1="130.1" y1="351.7" x2="136.1" y2="351.7" stroke="#2424f0" stroke-width="0.8" stroke-opacity="0.8"/>
<line x1="130.1" y1="353.5" x2="136.1" y2="353.5" stroke="#2424f0" stroke-width="0.8" stroke-opacity="0.8"/>
<circle cx="133.1" cy="352.6" r="5.6" fill="none" stroke="#2424f0" stroke-width="2"/>
<line x1="146.2" y1="346.9" x2="146.2" y2="356.1" stroke="#8080f0" stroke-width="0.9"/>
<line x1="143.2" y1="350.6" x2="149.2" y2="350.6" stroke="#2424f0" stroke-width="0.8" stroke-opacity="0.8"/>
<line x1="143.2" y1="352.4" x2="149.2" y2="352.4" stroke="#2424f0" stroke-width="0.8" stroke-opacity="0.8"/>
<circle cx="146.2" cy="351.5" r="5.6" fill="none" stroke="#2424f0" stroke-width="2"/>
<line x1="159.4" y1="346.9" x2="159.4" y2="356.1" stroke="#8080f0" stroke-width="0.9"/>
<line x1="156.4" y1="350.6" x2="162.4" y2="350.6" stroke="#2424f0" stroke-width="0.8" stroke-opacity="0.8"/>
<line x1="156.4" y1="352.4" x2="162.4" y2="352.4" stroke="#2424f0" stroke-width="0.8" stroke-opacity="0.8"/>
<circle cx="159.4" cy="351.5" r="5.6" fill="none" stroke="#2424f0" stroke-width="2"/>
<line x1="172.8" y1="345.1" x2="172.8" y2="354.3" stroke="#8080f0" stroke-width="0.9"/>
<line x1="169.8" y1="348.8" x2="175.8" y2="348.8" stroke="#2424f0" stroke-width="0.8" stroke-opacity="0.8"/>
<line x1="169.8" y1="350.6" x2="175.8" y2="350.6" stroke="#2424f0" stroke-width="0.8" stroke-opacity="0.8"/>
<circle cx="172.8" cy="349.7" r="5.6" fill="none" stroke="#2424f0" stroke-width="2"/>
<line x1="185.5" y1="347.4" x2="185.5" y2="356.6" stroke="#8080f0" stroke-width="0.9"/>
<line x1="182.5" y1="351.1" x2="188.5" y2="351.1" stroke="#2424f0" stroke-width="0.8" stroke-opacity="0.8"/>
<line x1="182.5" y1="352.9" x2="188.5" y2="352.9" stroke="#2424f0" stroke-width="0.8" stroke-opacity="0.8"/>
<circle cx="185.5" cy="352.0" r="5.6" fill="none" stroke="#2424f0" stroke-width="2"/>
<line x1="198.4" y1="348.5" x2="198.4" y2="357.7" stroke="#8080f0" stroke-width="0.9"/>
<line x1="195.4" y1="352.2" x2="201.4" y2="352.2" stroke="#2424f0" stroke-width="0.8" stroke-opacity="0.8"/>
<line x1="195.4" y1="354.0" x2="201.4" y2="354.0" stroke="#2424f0" stroke-width="0.8" stroke-opacity="0.8"/>
<circle cx="198.4" cy="353.1" r="5.6" fill="none" stroke="#2424f0" stroke-width="2"/>
<line x1="211.3" y1="346.9" x2="211.3" y2="356.1" stroke="#8080f0" stroke-width="0.9"/>
<line x1="208.3" y1="350.6" x2="214.3" y2="350.6" stroke="#2424f0" stroke-width="0.8" stroke-opacity="0.8"/>
<line x1="208.3" y1="352.4" x2="214.3" y2="352.4" stroke="#2424f0" stroke-width="0.8" stroke-opacity="0.8"/>
<circle cx="211.3" cy="351.5" r="5.6" fill="none" stroke="#2424f0" stroke-width="2"/>
<line x1="224.5" y1="345.7" x2="224.5" y2="354.9" stroke="#8080f0" stroke-width="0.9"/>
<line x1="221.5" y1="349.4" x2="227.5" y2="349.4" stroke="#2424f0" stroke-width="0.8" stroke-opacity="0.8"/>
<line x1="221.5" y1="351.2" x2="227.5" y2="351.2" stroke="#2424f0" stroke-width="0.8" stroke-opacity="0.8"/>
<circle cx="224.5" cy="350.3" r="5.6" fill="none" stroke="#2424f0" stroke-width="2"/>
<line x1="237.6" y1="346.9" x2="237.6" y2="356.1" stroke="#8080f0" stroke-width="0.9"/>
<line x1="234.6" y1="350.6" x2="240.6" y2="350.6" stroke="#2424f0" stroke-width="0.8" stroke-opacity="0.8"/>
<line x1="234.6" y1="352.4" x2="240.6" y2="352.4" stroke="#2424f0" stroke-width="0.8" stroke-opacity="0.8"/>
<circle cx="237.6" cy="351.5" r="5.6" fill="none" stroke="#2424f0" stroke-width="2"/>
<line x1="250.6" y1="345.7" x2="250.6" y2="354.9" stroke="#8080f0" stroke-width="0.9"/>
<line x1="247.6" y1="349.4" x2="253.6" y2="349.4" stroke="#2424f0" stroke-width="0.8" stroke-opacity="0.8"/>
<line x1="247.6" y1="351.2" x2="253.6" y2="351.2" stroke="#2424f0" stroke-width="0.8" stroke-opacity="0.8"/>
<circle cx="250.6" cy="350.3" r="5.6" fill="none" stroke="#2424f0" stroke-width="2"/>
<line x1="264.2" y1="345.7" x2="264.2" y2="354.9" stroke="#8080f0" stroke-width="0.9"/>
<line x1="261.2" y1="349.4" x2="267.2" y2="349.4" stroke="#2424f0" stroke-width="0.8" stroke-opacity="0.8"/>
<line x1="261.2" y1="351.2" x2="267.2" y2="351.2" stroke="#2424f0" stroke-width="0.8" stroke-opacity="0.8"/>
<circle cx="264.2" cy="350.3" r="5.6" fill="none" stroke="#2424f0" stroke-width="2"/>
<line x1="277.1" y1="346.9" x2="277.1" y2="356.1" stroke="#8080f0" stroke-width="0.9"/>
<line x1="274.1" y1="350.6" x2="280.1" y2="350.6" stroke="#2424f0" stroke-width="0.8" stroke-opacity="0.8"/>
<line x1="274.1" y1="352.4" x2="280.1" y2="352.4" stroke="#2424f0" stroke-width="0.8" stroke-opacity="0.8"/>
<circle cx="277.1" cy="351.5" r="5.6" fill="none" stroke="#2424f0" stroke-width="2"/>
<line x1="290.2" y1="349.1" x2="290.2" y2="358.3" stroke="#8080f0" stroke-width="0.9"/>
<line x1="287.2" y1="352.8" x2="293.2" y2="352.8" stroke="#2424f0" stroke-width="0.8" stroke-opacity="0.8"/>
<line x1="287.2" y1="354.6" x2="293.2" y2="354.6" stroke="#2424f0" stroke-width="0.8" stroke-opacity="0.8"/>
<circle cx="290.2" cy="353.7" r="5.6" fill="none" stroke="#2424f0" stroke-width="2"/>
<line x1="303.8" y1="349.8" x2="303.8" y2="359.0" stroke="#8080f0" stroke-width="0.9"/>
<line x1="300.8" y1="353.5" x2="306.8" y2="353.5" stroke="#2424f0" stroke-width="0.8" stroke-opacity="0.8"/>
<line x1="300.8" y1="355.3" x2="306.8" y2="355.3" stroke="#2424f0" stroke-width="0.8" stroke-opacity="0.8"/>
<circle cx="303.8" cy="354.4" r="5.6" fill="none" stroke="#2424f0" stroke-width="2"/>
<line x1="316.8" y1="350.3" x2="316.8" y2="359.5" stroke="#8080f0" stroke-width="0.9"/>
<line x1="313.8" y1="354.0" x2="319.8" y2="354.0" stroke="#2424f0" stroke-width="0.8" stroke-opacity="0.8"/>
<line x1="313.8" y1="355.8" x2="319.8" y2="355.8" stroke="#2424f0" stroke-width="0.8" stroke-opacity="0.8"/>
<circle cx="316.8" cy="354.9" r="5.6" fill="none" stroke="#2424f0" stroke-width="2"/>
<line x1="329.9" y1="349.1" x2="329.9" y2="358.3" stroke="#8080f0" stroke-width="0.9"/>
<line x1="326.9" y1="352.8" x2="332.9" y2="352.8" stroke="#2424f0" stroke-width="0.8" stroke-opacity="0.8"/>
<line x1="326.9" y1="354.6" x2="332.9" y2="354.6" stroke="#2424f0" stroke-width="0.8" stroke-opacity="0.8"/>
<circle cx="329.9" cy="353.7" r="5.6" fill="none" stroke="#2424f0" stroke-width="2"/>
<line x1="343.1" y1="351.9" x2="343.1" y2="361.1" stroke="#8080f0" stroke-width="0.9"/>
<line x1="340.1" y1="355.6" x2="346.1" y2="355.6" stroke="#2424f0" stroke-width="0.8" stroke-opacity="0.8"/>
<line x1="340.1" y1="357.4" x2="346.1" y2="357.4" stroke="#2424f0" stroke-width="0.8" stroke-opacity="0.8"/>
<circle cx="343.1" cy="356.5" r="5.6" fill="none" stroke="#2424f0" stroke-width="2"/>
<line x1="356.1" y1="350.9" x2="356.1" y2="360.1" stroke="#8080f0" stroke-width="0.9"/>
<line x1="353.1" y1="354.6" x2="359.1" y2="354.6" stroke="#2424f0" stroke-width="0.8" stroke-opacity="0.8"/>
<line x1="353.1" y1="356.4" x2="359.1" y2="356.4" stroke="#2424f0" stroke-width="0.8" stroke-opacity="0.8"/>
<circle cx="356.1" cy="355.5" r="5.6" fill="none" stroke="#2424f0" stroke-width="2"/>
<line x1="369.7" y1="350.3" x2="369.7" y2="359.5" stroke="#8080f0" stroke-width="0.9"/>
<line x1="366.7" y1="354.0" x2="372.7" y2="354.0" stroke="#2424f0" stroke-width="0.8" stroke-opacity="0.8"/>
<line x1="366.7" y1="355.8" x2="372.7" y2="355.8" stroke="#2424f0" stroke-width="0.8" stroke-opacity="0.8"/>
<circle cx="369.7" cy="354.9" r="5.6" fill="none" stroke="#2424f0" stroke-width="2"/>
<line x1="382.8" y1="335.1" x2="382.8" y2="344.3" stroke="#8080f0" stroke-width="0.9"/>
<line x1="379.8" y1="338.8" x2="385.8" y2="338.8" stroke="#2424f0" stroke-width="0.8" stroke-opacity="0.8"/>
<line x1="379.8" y1="340.6" x2="385.8" y2="340.6" stroke="#2424f0" stroke-width="0.8" stroke-opacity="0.8"/>
<circle cx="382.8" cy="339.7" r="5.6" fill="none" stroke="#2424f0" stroke-width="2"/>
<line x1="399.8" y1="338.9" x2="399.8" y2="348.1" stroke="#8080f0" stroke-width="0.9"/>
<line x1="396.8" y1="342.6" x2="402.8" y2="342.6" stroke="#2424f0" stroke-width="0.8" stroke-opacity="0.8"/>
<line x1="396.8" y1="344.4" x2="402.8" y2="344.4" stroke="#2424f0" stroke-width="0.8" stroke-opacity="0.8"/>
<circle cx="399.8" cy="343.5" r="5.6" fill="none" stroke="#2424f0" stroke-width="2"/>
<line x1="413.0" y1="346.9" x2="413.0" y2="356.1" stroke="#8080f0" stroke-width="0.9"/>
<line x1="410.0" y1="350.6" x2="416.0" y2="350.6" stroke="#2424f0" stroke-width="0.8" stroke-opacity="0.8"/>
<line x1="410.0" y1="352.4" x2="416.0" y2="352.4" stroke="#2424f0" stroke-width="0.8" stroke-opacity="0.8"/>
<circle cx="413.0" cy="351.5" r="5.6" fill="none" stroke="#2424f0" stroke-width="2"/>
<line x1="426.4" y1="351.9" x2="426.4" y2="361.1" stroke="#8080f0" stroke-width="0.9"/>
<line x1="423.4" y1="355.6" x2="429.4" y2="355.6" stroke="#2424f0" stroke-width="0.8" stroke-opacity="0.8"/>
<line x1="423.4" y1="357.4" x2="429.4" y2="357.4" stroke="#2424f0" stroke-width="0.8" stroke-opacity="0.8"/>
<circle cx="426.4" cy="356.5" r="5.6" fill="none" stroke="#2424f0" stroke-width="2"/>
<line x1="439.5" y1="350.9" x2="439.5" y2="360.1" stroke="#8080f0" stroke-width="0.9"/>
<line x1="436.5" y1="354.6" x2="442.5" y2="354.6" stroke="#2424f0" stroke-width="0.8" stroke-opacity="0.8"/>
<line x1="436.5" y1="356.4" x2="442.5" y2="356.4" stroke="#2424f0" stroke-width="0.8" stroke-opacity="0.8"/>
<circle cx="439.5" cy="355.5" r="5.6" fill="none" stroke="#2424f0" stroke-width="2"/>
<line x1="452.7" y1="351.4" x2="452.7" y2="360.6" stroke="#8080f0" stroke-width="0.9"/>
<line x1="449.7" y1="355.1" x2="455.7" y2="355.1" stroke="#2424f0" stroke-width="0.8" stroke-opacity="0.8"/>
<line x1="449.7" y1="356.9" x2="455.7" y2="356.9" stroke="#2424f0" stroke-width="0.8" stroke-opacity="0.8"/>
<circle cx="452.7" cy="356.0" r="5.6" fill="none" stroke="#2424f0" stroke-width="2"/>
<line x1="465.7" y1="351.9" x2="465.7" y2="361.1" stroke="#8080f0" stroke-width="0.9"/>
<line x1="462.7" y1="355.6" x2="468.7" y2="355.6" stroke="#2424f0" stroke-width="0.8" stroke-opacity="0.8"/>
<line x1="462.7" y1="357.4" x2="468.7" y2="357.4" stroke="#2424f0" stroke-width="0.8" stroke-opacity="0.8"/>
<circle cx="465.7" cy="356.5" r="5.6" fill="none" stroke="#2424f0" stroke-width="2"/>
<line x1="478.8" y1="350.4" x2="478.8" y2="359.6" stroke="#8080f0" stroke-width="0.9"/>
<line x1="475.8" y1="354.1" x2="481.8" y2="354.1" stroke="#2424f0" stroke-width="0.8" stroke-opacity="0.8"/>
<line x1="475.8" y1="355.9" x2="481.8" y2="355.9" stroke="#2424f0" stroke-width="0.8" stroke-opacity="0.8"/>
<circle cx="478.8" cy="355.0" r="5.6" fill="none" stroke="#2424f0" stroke-width="2"/>
<line x1="491.8" y1="349.7" x2="491.8" y2="358.9" stroke="#8080f0" stroke-width="0.9"/>
<line x1="488.8" y1="353.4" x2="494.8" y2="353.4" stroke="#2424f0" stroke-width="0.8" stroke-opacity="0.8"/>
<line x1="488.8" y1="355.2" x2="494.8" y2="355.2" stroke="#2424f0" stroke-width="0.8" stroke-opacity="0.8"/>
<circle cx="491.8" cy="354.3" r="5.6" fill="none" stroke="#2424f0" stroke-width="2"/>
<line x1="504.9" y1="349.2" x2="504.9" y2="358.4" stroke="#8080f0" stroke-width="0.9"/>
<line x1="501.9" y1="352.9" x2="507.9" y2="352.9" stroke="#2424f0" stroke-width="0.8" stroke-opacity="0.8"/>
<line x1="501.9" y1="354.7" x2="507.9" y2="354.7" stroke="#2424f0" stroke-width="0.8" stroke-opacity="0.8"/>
<circle cx="504.9" cy="353.8" r="5.6" fill="none" stroke="#2424f0" stroke-width="2"/>
<line x1="518.1" y1="344.2" x2="518.1" y2="353.4" stroke="#8080f0" stroke-width="0.9"/>
<line x1="515.1" y1="347.9" x2="521.1" y2="347.9" stroke="#2424f0" stroke-width="0.8" stroke-opacity="0.8"/>
<line x1="515.1" y1="349.7" x2="521.1" y2="349.7" stroke="#2424f0" stroke-width="0.8" stroke-opacity="0.8"/>
<circle cx="518.1" cy="348.8" r="5.6" fill="none" stroke="#2424f0" stroke-width="2"/>
<line x1="531.5" y1="347.6" x2="531.5" y2="356.8" stroke="#8080f0" stroke-width="0.9"/>
<line x1="528.5" y1="351.3" x2="534.5" y2="351.3" stroke="#2424f0" stroke-width="0.8" stroke-opacity="0.8"/>
<line x1="528.5" y1="353.1" x2="534.5" y2="353.1" stroke="#2424f0" stroke-width="0.8" stroke-opacity="0.8"/>
<circle cx="531.5" cy="352.2" r="5.6" fill="none" stroke="#2424f0" stroke-width="2"/>
<line x1="548.5" y1="347.0" x2="548.5" y2="356.2" stroke="#8080f0" stroke-width="0.9"/>
<line x1="545.5" y1="350.7" x2="551.5" y2="350.7" stroke="#2424f0" stroke-width="0.8" stroke-opacity="0.8"/>
<line x1="545.5" y1="352.5" x2="551.5" y2="352.5" stroke="#2424f0" stroke-width="0.8" stroke-opacity="0.8"/>
<circle cx="548.5" cy="351.6" r="5.6" fill="none" stroke="#2424f0" stroke-width="2"/>
<line x1="561.6" y1="345.2" x2="561.6" y2="354.4" stroke="#8080f0" stroke-width="0.9"/>
<line x1="558.6" y1="348.9" x2="564.6" y2="348.9" stroke="#2424f0" stroke-width="0.8" stroke-opacity="0.8"/>
<line x1="558.6" y1="350.7" x2="564.6" y2="350.7" stroke="#2424f0" stroke-width="0.8" stroke-opacity="0.8"/>
<circle cx="561.6" cy="349.8" r="5.6" fill="none" stroke="#2424f0" stroke-width="2"/>
<line x1="579.3" y1="347.6" x2="579.3" y2="356.8" stroke="#8080f0" stroke-width="0.9"/>
<line x1="576.3" y1="351.3" x2="582.3" y2="351.3" stroke="#2424f0" stroke-width="0.8" stroke-opacity="0.8"/>
<line x1="576.3" y1="353.1" x2="582.3" y2="353.1" stroke="#2424f0" stroke-width="0.8" stroke-opacity="0.8"/>
<circle cx="579.3" cy="352.2" r="5.6" fill="none" stroke="#2424f0" stroke-width="2"/>
<line x1="588.2" y1="351.1" x2="588.2" y2="360.3" stroke="#8080f0" stroke-width="0.9"/>
<line x1="585.2" y1="354.8" x2="591.2" y2="354.8" stroke="#2424f0" stroke-width="0.8" stroke-opacity="0.8"/>
<line x1="585.2" y1="356.6" x2="591.2" y2="356.6" stroke="#2424f0" stroke-width="0.8" stroke-opacity="0.8"/>
<circle cx="588.2" cy="355.7" r="5.6" fill="none" stroke="#2424f0" stroke-width="2"/>
<circle cx="67.9" cy="284.6" r="6.6" fill="#c62229"/>
<circle cx="66.0" cy="282.5" r="4.09" fill="url(#hl)"/>
<circle cx="80.9" cy="288.0" r="6.6" fill="#c62229"/>
<circle cx="79.0" cy="285.9" r="4.09" fill="url(#hl)"/>
<circle cx="94.0" cy="286.2" r="6.6" fill="#c62229"/>
<circle cx="92.1" cy="284.1" r="4.09" fill="url(#hl)"/>
<circle cx="107.2" cy="270.6" r="6.6" fill="#c62229"/>
<circle cx="105.3" cy="268.5" r="4.09" fill="url(#hl)"/>
<circle cx="120.1" cy="290.3" r="6.6" fill="#c62229"/>
<circle cx="118.2" cy="288.2" r="4.09" fill="url(#hl)"/>
<circle cx="133.1" cy="277.8" r="6.6" fill="#c62229"/>
<circle cx="131.2" cy="275.7" r="4.09" fill="url(#hl)"/>
<circle cx="146.2" cy="295.5" r="6.6" fill="#c62229"/>
<circle cx="144.3" cy="293.4" r="4.09" fill="url(#hl)"/>
<circle cx="159.4" cy="285.3" r="6.6" fill="#c62229"/>
<circle cx="157.5" cy="283.2" r="4.09" fill="url(#hl)"/>
<circle cx="172.8" cy="268.0" r="6.6" fill="#c62229"/>
<circle cx="170.9" cy="265.9" r="4.09" fill="url(#hl)"/>
<circle cx="185.5" cy="263.5" r="6.6" fill="#c62229"/>
<circle cx="183.6" cy="261.4" r="4.09" fill="url(#hl)"/>
<circle cx="198.4" cy="262.3" r="6.6" fill="#c62229"/>
<circle cx="196.5" cy="260.2" r="4.09" fill="url(#hl)"/>
<circle cx="211.3" cy="267.1" r="6.6" fill="#c62229"/>
<circle cx="209.4" cy="265.0" r="4.09" fill="url(#hl)"/>
<circle cx="224.5" cy="280.7" r="6.6" fill="#c62229"/>
<circle cx="222.6" cy="278.6" r="4.09" fill="url(#hl)"/>
<circle cx="237.6" cy="279.4" r="6.6" fill="#c62229"/>
<circle cx="235.7" cy="277.3" r="4.09" fill="url(#hl)"/>
<circle cx="250.6" cy="249.9" r="6.6" fill="#c62229"/>
<circle cx="248.7" cy="247.8" r="4.09" fill="url(#hl)"/>
<circle cx="264.2" cy="234.0" r="6.6" fill="#c62229"/>
<circle cx="262.3" cy="231.9" r="4.09" fill="url(#hl)"/>
<circle cx="277.1" cy="270.3" r="6.6" fill="#c62229"/>
<circle cx="275.2" cy="268.2" r="4.09" fill="url(#hl)"/>
<circle cx="290.2" cy="283.4" r="6.6" fill="#c62229"/>
<circle cx="288.3" cy="281.3" r="4.09" fill="url(#hl)"/>
<circle cx="303.8" cy="270.3" r="6.6" fill="#c62229"/>
<circle cx="301.9" cy="268.2" r="4.09" fill="url(#hl)"/>
<circle cx="316.8" cy="267.1" r="6.6" fill="#c62229"/>
<circle cx="314.9" cy="265.0" r="4.09" fill="url(#hl)"/>
<circle cx="329.9" cy="271.6" r="6.6" fill="#c62229"/>
<circle cx="328.0" cy="269.5" r="4.09" fill="url(#hl)"/>
<circle cx="343.1" cy="258.0" r="6.6" fill="#c62229"/>
<circle cx="341.2" cy="255.9" r="4.09" fill="url(#hl)"/>
<circle cx="356.1" cy="269.8" r="6.6" fill="#c62229"/>
<circle cx="354.2" cy="267.7" r="4.09" fill="url(#hl)"/>
<circle cx="369.7" cy="283.9" r="6.6" fill="#c62229"/>
<circle cx="367.8" cy="281.8" r="4.09" fill="url(#hl)"/>
<circle cx="382.8" cy="258.0" r="6.6" fill="#c62229"/>
<circle cx="380.9" cy="255.9" r="4.09" fill="url(#hl)"/>
<circle cx="399.8" cy="271.0" r="6.6" fill="#c62229"/>
<circle cx="397.9" cy="268.9" r="4.09" fill="url(#hl)"/>
<circle cx="413.0" cy="268.0" r="6.6" fill="#c62229"/>
<circle cx="411.1" cy="265.9" r="4.09" fill="url(#hl)"/>
<circle cx="426.4" cy="280.7" r="6.6" fill="#c62229"/>
<circle cx="424.5" cy="278.6" r="4.09" fill="url(#hl)"/>
<circle cx="439.5" cy="274.4" r="6.6" fill="#c62229"/>
<circle cx="437.6" cy="272.3" r="4.09" fill="url(#hl)"/>
<circle cx="452.7" cy="231.7" r="6.6" fill="#c62229"/>
<circle cx="450.8" cy="229.6" r="4.09" fill="url(#hl)"/>
<circle cx="465.7" cy="272.2" r="6.6" fill="#c62229"/>
<circle cx="463.8" cy="270.1" r="4.09" fill="url(#hl)"/>
<circle cx="478.8" cy="246.0" r="6.6" fill="#c62229"/>
<circle cx="476.9" cy="243.9" r="4.09" fill="url(#hl)"/>
<circle cx="491.8" cy="274.0" r="6.6" fill="#c62229"/>
<circle cx="489.9" cy="271.9" r="4.09" fill="url(#hl)"/>
<circle cx="504.9" cy="284.6" r="6.6" fill="#c62229"/>
<circle cx="503.0" cy="282.5" r="4.09" fill="url(#hl)"/>
<circle cx="518.1" cy="251.7" r="6.6" fill="#c62229"/>
<circle cx="516.2" cy="249.6" r="4.09" fill="url(#hl)"/>
<circle cx="531.5" cy="283.0" r="6.6" fill="#c62229"/>
<circle cx="529.6" cy="280.9" r="4.09" fill="url(#hl)"/>
<circle cx="548.5" cy="276.2" r="6.6" fill="#c62229"/>
<circle cx="546.6" cy="274.1" r="4.09" fill="url(#hl)"/>
<circle cx="561.6" cy="260.1" r="6.6" fill="#c62229"/>
<circle cx="559.7" cy="258.0" r="4.09" fill="url(#hl)"/>
<circle cx="579.3" cy="269.9" r="6.6" fill="#c62229"/>
<circle cx="577.4" cy="267.8" r="4.09" fill="url(#hl)"/>
<circle cx="588.2" cy="286.4" r="6.6" fill="#c62229"/>
<circle cx="586.3" cy="284.3" r="4.09" fill="url(#hl)"/>
</g>
<rect x="63.5" y="200.3" width="533.7" height="173.3" fill="none" stroke="#000" stroke-width="2"/>
<g clip-path="url(#clipc)">
<line x1="372.8" y1="390.8" x2="372.8" y2="563.9" stroke="#9c9c9c" stroke-width="1.4" stroke-dasharray="3.6,4.3" stroke-dashoffset="3.4"/>
<polyline points="64.5,463.8 76.9,482.5 90.4,475.7 103.3,469.9 117.5,457.7 131.0,447.3 144.5,440.6 157.4,463.1 170.5,445.1 185.1,439.7 198.6,442.4 210.8,443.5 224.3,433.3 238.3,430.0 251.4,441.2 265.3,431.5 278.4,442.4 291.9,451.4 305.5,444.2 319.0,451.8 332.9,433.3 346.4,426.1 359.3,427.0 372.3,438.3 386.3,524.6 403.9,511.1 417.9,453.2 431.4,429.3 444.5,438.3 458.4,466.7 471.9,449.6 485.4,463.8 498.3,441.9 511.4,439.7 525.4,421.6 538.9,428.4 570.0,466.7 588.1,440.6 600.0,465.0" fill="none" stroke="#2626e8" stroke-width="2" stroke-linejoin="miter"/>
<polygon points="67.9,475.2 80.7,490.5 93.8,478.1 106.9,484.2 120.4,468.6 133.3,465.1 146.1,447.1 159.2,474.2 172.3,440.1 185.1,441.8 198.4,442.9 211.9,451.3 225.0,428.0 238.3,425.6 251.4,439.4 264.4,445.8 278.0,462.5 290.8,480.2 304.3,479.7 317.2,487.2 330.2,473.8 343.0,453.3 356.1,466.2 369.6,482.4 383.2,474.6 399.8,479.6 412.9,467.5 426.4,449.9 440.0,467.5 453.0,485.0 465.8,489.1 478.7,463.5 491.8,452.3 505.1,470.2 518.1,459.6 531.7,480.4 548.6,472.3 562.1,481.5 579.0,455.7 588.5,472.0 588.5,484.0 579.0,468.7 562.1,493.5 548.6,482.3 531.7,492.4 518.1,477.0 505.1,487.6 491.8,466.3 478.7,488.9 465.8,503.1 453.0,499.0 440.0,479.5 426.4,461.9 412.9,479.5 399.8,491.6 383.2,484.6 369.6,492.4 356.1,477.2 343.0,465.3 330.2,493.8 317.2,501.2 304.3,489.7 290.8,490.2 278.0,475.5 264.4,457.8 251.4,453.4 238.3,435.6 225.0,441.0 211.9,461.3 198.4,458.9 185.1,449.8 172.3,450.1 159.2,488.2 146.1,470.1 133.3,485.1 120.4,487.4 106.9,495.2 93.8,490.1 80.7,502.5 67.9,486.2" fill="rgb(198,248,150)" fill-opacity="0.6"/>
<line x1="67.9" y1="548.9" x2="67.9" y2="558.1" stroke="#e07a7a" stroke-width="0.9"/>
<line x1="64.9" y1="552.6" x2="70.9" y2="552.6" stroke="#d42020" stroke-width="0.8" stroke-opacity="0.8"/>
<line x1="64.9" y1="554.4" x2="70.9" y2="554.4" stroke="#d42020" stroke-width="0.8" stroke-opacity="0.8"/>
<circle cx="67.9" cy="553.5" r="5.6" fill="none" stroke="#d42020" stroke-width="2"/>
<line x1="80.7" y1="547.9" x2="80.7" y2="557.1" stroke="#e07a7a" stroke-width="0.9"/>
<line x1="77.7" y1="551.6" x2="83.7" y2="551.6" stroke="#d42020" stroke-width="0.8" stroke-opacity="0.8"/>
<line x1="77.7" y1="553.4" x2="83.7" y2="553.4" stroke="#d42020" stroke-width="0.8" stroke-opacity="0.8"/>
<circle cx="80.7" cy="552.5" r="5.6" fill="none" stroke="#d42020" stroke-width="2"/>
<line x1="93.8" y1="547.1" x2="93.8" y2="556.3" stroke="#e07a7a" stroke-width="0.9"/>
<line x1="90.8" y1="550.8" x2="96.8" y2="550.8" stroke="#d42020" stroke-width="0.8" stroke-opacity="0.8"/>
<line x1="90.8" y1="552.6" x2="96.8" y2="552.6" stroke="#d42020" stroke-width="0.8" stroke-opacity="0.8"/>
<circle cx="93.8" cy="551.7" r="5.6" fill="none" stroke="#d42020" stroke-width="2"/>
<line x1="106.9" y1="547.9" x2="106.9" y2="557.1" stroke="#e07a7a" stroke-width="0.9"/>
<line x1="103.9" y1="551.6" x2="109.9" y2="551.6" stroke="#d42020" stroke-width="0.8" stroke-opacity="0.8"/>
<line x1="103.9" y1="553.4" x2="109.9" y2="553.4" stroke="#d42020" stroke-width="0.8" stroke-opacity="0.8"/>
<circle cx="106.9" cy="552.5" r="5.6" fill="none" stroke="#d42020" stroke-width="2"/>
<line x1="120.4" y1="547.9" x2="120.4" y2="557.1" stroke="#e07a7a" stroke-width="0.9"/>
<line x1="117.4" y1="551.6" x2="123.4" y2="551.6" stroke="#d42020" stroke-width="0.8" stroke-opacity="0.8"/>
<line x1="117.4" y1="553.4" x2="123.4" y2="553.4" stroke="#d42020" stroke-width="0.8" stroke-opacity="0.8"/>
<circle cx="120.4" cy="552.5" r="5.6" fill="none" stroke="#d42020" stroke-width="2"/>
<line x1="133.3" y1="548.4" x2="133.3" y2="557.6" stroke="#e07a7a" stroke-width="0.9"/>
<line x1="130.3" y1="552.1" x2="136.3" y2="552.1" stroke="#d42020" stroke-width="0.8" stroke-opacity="0.8"/>
<line x1="130.3" y1="553.9" x2="136.3" y2="553.9" stroke="#d42020" stroke-width="0.8" stroke-opacity="0.8"/>
<circle cx="133.3" cy="553.0" r="5.6" fill="none" stroke="#d42020" stroke-width="2"/>
<line x1="146.1" y1="547.9" x2="146.1" y2="557.1" stroke="#e07a7a" stroke-width="0.9"/>
<line x1="143.1" y1="551.6" x2="149.1" y2="551.6" stroke="#d42020" stroke-width="0.8" stroke-opacity="0.8"/>
<line x1="143.1" y1="553.4" x2="149.1" y2="553.4" stroke="#d42020" stroke-width="0.8" stroke-opacity="0.8"/>
<circle cx="146.1" cy="552.5" r="5.6" fill="none" stroke="#d42020" stroke-width="2"/>
<line x1="159.2" y1="547.9" x2="159.2" y2="557.1" stroke="#e07a7a" stroke-width="0.9"/>
<line x1="156.2" y1="551.6" x2="162.2" y2="551.6" stroke="#d42020" stroke-width="0.8" stroke-opacity="0.8"/>
<line x1="156.2" y1="553.4" x2="162.2" y2="553.4" stroke="#d42020" stroke-width="0.8" stroke-opacity="0.8"/>
<circle cx="159.2" cy="552.5" r="5.6" fill="none" stroke="#d42020" stroke-width="2"/>
<line x1="172.3" y1="547.1" x2="172.3" y2="556.3" stroke="#e07a7a" stroke-width="0.9"/>
<line x1="169.3" y1="550.8" x2="175.3" y2="550.8" stroke="#d42020" stroke-width="0.8" stroke-opacity="0.8"/>
<line x1="169.3" y1="552.6" x2="175.3" y2="552.6" stroke="#d42020" stroke-width="0.8" stroke-opacity="0.8"/>
<circle cx="172.3" cy="551.7" r="5.6" fill="none" stroke="#d42020" stroke-width="2"/>
<line x1="185.1" y1="547.9" x2="185.1" y2="557.1" stroke="#e07a7a" stroke-width="0.9"/>
<line x1="182.1" y1="551.6" x2="188.1" y2="551.6" stroke="#d42020" stroke-width="0.8" stroke-opacity="0.8"/>
<line x1="182.1" y1="553.4" x2="188.1" y2="553.4" stroke="#d42020" stroke-width="0.8" stroke-opacity="0.8"/>
<circle cx="185.1" cy="552.5" r="5.6" fill="none" stroke="#d42020" stroke-width="2"/>
<line x1="198.4" y1="548.2" x2="198.4" y2="557.4" stroke="#e07a7a" stroke-width="0.9"/>
<line x1="195.4" y1="551.9" x2="201.4" y2="551.9" stroke="#d42020" stroke-width="0.8" stroke-opacity="0.8"/>
<line x1="195.4" y1="553.7" x2="201.4" y2="553.7" stroke="#d42020" stroke-width="0.8" stroke-opacity="0.8"/>
<circle cx="198.4" cy="552.8" r="5.6" fill="none" stroke="#d42020" stroke-width="2"/>
<line x1="211.9" y1="548.2" x2="211.9" y2="557.4" stroke="#e07a7a" stroke-width="0.9"/>
<line x1="208.9" y1="551.9" x2="214.9" y2="551.9" stroke="#d42020" stroke-width="0.8" stroke-opacity="0.8"/>
<line x1="208.9" y1="553.7" x2="214.9" y2="553.7" stroke="#d42020" stroke-width="0.8" stroke-opacity="0.8"/>
<circle cx="211.9" cy="552.8" r="5.6" fill="none" stroke="#d42020" stroke-width="2"/>
<line x1="225.0" y1="548.2" x2="225.0" y2="557.4" stroke="#e07a7a" stroke-width="0.9"/>
<line x1="222.0" y1="551.9" x2="228.0" y2="551.9" stroke="#d42020" stroke-width="0.8" stroke-opacity="0.8"/>
<line x1="222.0" y1="553.7" x2="228.0" y2="553.7" stroke="#d42020" stroke-width="0.8" stroke-opacity="0.8"/>
<circle cx="225.0" cy="552.8" r="5.6" fill="none" stroke="#d42020" stroke-width="2"/>
<line x1="238.3" y1="547.1" x2="238.3" y2="556.3" stroke="#e07a7a" stroke-width="0.9"/>
<line x1="235.3" y1="550.8" x2="241.3" y2="550.8" stroke="#d42020" stroke-width="0.8" stroke-opacity="0.8"/>
<line x1="235.3" y1="552.6" x2="241.3" y2="552.6" stroke="#d42020" stroke-width="0.8" stroke-opacity="0.8"/>
<circle cx="238.3" cy="551.7" r="5.6" fill="none" stroke="#d42020" stroke-width="2"/>
<line x1="251.4" y1="548.2" x2="251.4" y2="557.4" stroke="#e07a7a" stroke-width="0.9"/>
<line x1="248.4" y1="551.9" x2="254.4" y2="551.9" stroke="#d42020" stroke-width="0.8" stroke-opacity="0.8"/>
<line x1="248.4" y1="553.7" x2="254.4" y2="553.7" stroke="#d42020" stroke-width="0.8" stroke-opacity="0.8"/>
<circle cx="251.4" cy="552.8" r="5.6" fill="none" stroke="#d42020" stroke-width="2"/>
<line x1="264.4" y1="548.2" x2="264.4" y2="557.4" stroke="#e07a7a" stroke-width="0.9"/>
<line x1="261.4" y1="551.9" x2="267.4" y2="551.9" stroke="#d42020" stroke-width="0.8" stroke-opacity="0.8"/>
<line x1="261.4" y1="553.7" x2="267.4" y2="553.7" stroke="#d42020" stroke-width="0.8" stroke-opacity="0.8"/>
<circle cx="264.4" cy="552.8" r="5.6" fill="none" stroke="#d42020" stroke-width="2"/>
<line x1="278.0" y1="548.2" x2="278.0" y2="557.4" stroke="#e07a7a" stroke-width="0.9"/>
<line x1="275.0" y1="551.9" x2="281.0" y2="551.9" stroke="#d42020" stroke-width="0.8" stroke-opacity="0.8"/>
<line x1="275.0" y1="553.7" x2="281.0" y2="553.7" stroke="#d42020" stroke-width="0.8" stroke-opacity="0.8"/>
<circle cx="278.0" cy="552.8" r="5.6" fill="none" stroke="#d42020" stroke-width="2"/>
<line x1="290.8" y1="548.2" x2="290.8" y2="557.4" stroke="#e07a7a" stroke-width="0.9"/>
<line x1="287.8" y1="551.9" x2="293.8" y2="551.9" stroke="#d42020" stroke-width="0.8" stroke-opacity="0.8"/>
<line x1="287.8" y1="553.7" x2="293.8" y2="553.7" stroke="#d42020" stroke-width="0.8" stroke-opacity="0.8"/>
<circle cx="290.8" cy="552.8" r="5.6" fill="none" stroke="#d42020" stroke-width="2"/>
<line x1="304.3" y1="548.2" x2="304.3" y2="557.4" stroke="#e07a7a" stroke-width="0.9"/>
<line x1="301.3" y1="551.9" x2="307.3" y2="551.9" stroke="#d42020" stroke-width="0.8" stroke-opacity="0.8"/>
<line x1="301.3" y1="553.7" x2="307.3" y2="553.7" stroke="#d42020" stroke-width="0.8" stroke-opacity="0.8"/>
<circle cx="304.3" cy="552.8" r="5.6" fill="none" stroke="#d42020" stroke-width="2"/>
<line x1="317.2" y1="548.9" x2="317.2" y2="558.1" stroke="#e07a7a" stroke-width="0.9"/>
<line x1="314.2" y1="552.6" x2="320.2" y2="552.6" stroke="#d42020" stroke-width="0.8" stroke-opacity="0.8"/>
<line x1="314.2" y1="554.4" x2="320.2" y2="554.4" stroke="#d42020" stroke-width="0.8" stroke-opacity="0.8"/>
<circle cx="317.2" cy="553.5" r="5.6" fill="none" stroke="#d42020" stroke-width="2"/>
<line x1="330.2" y1="550.9" x2="330.2" y2="560.1" stroke="#e07a7a" stroke-width="0.9"/>
<line x1="327.2" y1="554.6" x2="333.2" y2="554.6" stroke="#d42020" stroke-width="0.8" stroke-opacity="0.8"/>
<line x1="327.2" y1="556.4" x2="333.2" y2="556.4" stroke="#d42020" stroke-width="0.8" stroke-opacity="0.8"/>
<circle cx="330.2" cy="555.5" r="5.6" fill="none" stroke="#d42020" stroke-width="2"/>
<line x1="343.0" y1="550.9" x2="343.0" y2="560.1" stroke="#e07a7a" stroke-width="0.9"/>
<line x1="340.0" y1="554.6" x2="346.0" y2="554.6" stroke="#d42020" stroke-width="0.8" stroke-opacity="0.8"/>
<line x1="340.0" y1="556.4" x2="346.0" y2="556.4" stroke="#d42020" stroke-width="0.8" stroke-opacity="0.8"/>
<circle cx="343.0" cy="555.5" r="5.6" fill="none" stroke="#d42020" stroke-width="2"/>
<line x1="356.1" y1="550.9" x2="356.1" y2="560.1" stroke="#e07a7a" stroke-width="0.9"/>
<line x1="353.1" y1="554.6" x2="359.1" y2="554.6" stroke="#d42020" stroke-width="0.8" stroke-opacity="0.8"/>
<line x1="353.1" y1="556.4" x2="359.1" y2="556.4" stroke="#d42020" stroke-width="0.8" stroke-opacity="0.8"/>
<circle cx="356.1" cy="555.5" r="5.6" fill="none" stroke="#d42020" stroke-width="2"/>
<line x1="369.6" y1="550.9" x2="369.6" y2="560.1" stroke="#e07a7a" stroke-width="0.9"/>
<line x1="366.6" y1="554.6" x2="372.6" y2="554.6" stroke="#d42020" stroke-width="0.8" stroke-opacity="0.8"/>
<line x1="366.6" y1="556.4" x2="372.6" y2="556.4" stroke="#d42020" stroke-width="0.8" stroke-opacity="0.8"/>
<circle cx="369.6" cy="555.5" r="5.6" fill="none" stroke="#d42020" stroke-width="2"/>
<line x1="383.2" y1="542.6" x2="383.2" y2="551.8" stroke="#e07a7a" stroke-width="0.9"/>
<line x1="380.2" y1="546.3" x2="386.2" y2="546.3" stroke="#d42020" stroke-width="0.8" stroke-opacity="0.8"/>
<line x1="380.2" y1="548.1" x2="386.2" y2="548.1" stroke="#d42020" stroke-width="0.8" stroke-opacity="0.8"/>
<circle cx="383.2" cy="547.2" r="5.6" fill="none" stroke="#d42020" stroke-width="2"/>
<line x1="399.8" y1="544.2" x2="399.8" y2="553.4" stroke="#e07a7a" stroke-width="0.9"/>
<line x1="396.8" y1="547.9" x2="402.8" y2="547.9" stroke="#d42020" stroke-width="0.8" stroke-opacity="0.8"/>
<line x1="396.8" y1="549.7" x2="402.8" y2="549.7" stroke="#d42020" stroke-width="0.8" stroke-opacity="0.8"/>
<circle cx="399.8" cy="548.8" r="5.6" fill="none" stroke="#d42020" stroke-width="2"/>
<line x1="412.9" y1="548.7" x2="412.9" y2="557.9" stroke="#e07a7a" stroke-width="0.9"/>
<line x1="409.9" y1="552.4" x2="415.9" y2="552.4" stroke="#d42020" stroke-width="0.8" stroke-opacity="0.8"/>
<line x1="409.9" y1="554.2" x2="415.9" y2="554.2" stroke="#d42020" stroke-width="0.8" stroke-opacity="0.8"/>
<circle cx="412.9" cy="553.3" r="5.6" fill="none" stroke="#d42020" stroke-width="2"/>
<line x1="426.4" y1="550.0" x2="426.4" y2="559.2" stroke="#e07a7a" stroke-width="0.9"/>
<line x1="423.4" y1="553.7" x2="429.4" y2="553.7" stroke="#d42020" stroke-width="0.8" stroke-opacity="0.8"/>
<line x1="423.4" y1="555.5" x2="429.4" y2="555.5" stroke="#d42020" stroke-width="0.8" stroke-opacity="0.8"/>
<circle cx="426.4" cy="554.6" r="5.6" fill="none" stroke="#d42020" stroke-width="2"/>
<line x1="440.0" y1="550.0" x2="440.0" y2="559.2" stroke="#e07a7a" stroke-width="0.9"/>
<line x1="437.0" y1="553.7" x2="443.0" y2="553.7" stroke="#d42020" stroke-width="0.8" stroke-opacity="0.8"/>
<line x1="437.0" y1="555.5" x2="443.0" y2="555.5" stroke="#d42020" stroke-width="0.8" stroke-opacity="0.8"/>
<circle cx="440.0" cy="554.6" r="5.6" fill="none" stroke="#d42020" stroke-width="2"/>
<line x1="453.0" y1="549.4" x2="453.0" y2="558.6" stroke="#e07a7a" stroke-width="0.9"/>
<line x1="450.0" y1="553.1" x2="456.0" y2="553.1" stroke="#d42020" stroke-width="0.8" stroke-opacity="0.8"/>
<line x1="450.0" y1="554.9" x2="456.0" y2="554.9" stroke="#d42020" stroke-width="0.8" stroke-opacity="0.8"/>
<circle cx="453.0" cy="554.0" r="5.6" fill="none" stroke="#d42020" stroke-width="2"/>
<line x1="465.8" y1="551.0" x2="465.8" y2="560.2" stroke="#e07a7a" stroke-width="0.9"/>
<line x1="462.8" y1="554.7" x2="468.8" y2="554.7" stroke="#d42020" stroke-width="0.8" stroke-opacity="0.8"/>
<line x1="462.8" y1="556.5" x2="468.8" y2="556.5" stroke="#d42020" stroke-width="0.8" stroke-opacity="0.8"/>
<circle cx="465.8" cy="555.6" r="5.6" fill="none" stroke="#d42020" stroke-width="2"/>
<line x1="478.7" y1="547.8" x2="478.7" y2="557.0" stroke="#e07a7a" stroke-width="0.9"/>
<line x1="475.7" y1="551.5" x2="481.7" y2="551.5" stroke="#d42020" stroke-width="0.8" stroke-opacity="0.8"/>
<line x1="475.7" y1="553.3" x2="481.7" y2="553.3" stroke="#d42020" stroke-width="0.8" stroke-opacity="0.8"/>
<circle cx="478.7" cy="552.4" r="5.6" fill="none" stroke="#d42020" stroke-width="2"/>
<line x1="491.8" y1="548.7" x2="491.8" y2="557.9" stroke="#e07a7a" stroke-width="0.9"/>
<line x1="488.8" y1="552.4" x2="494.8" y2="552.4" stroke="#d42020" stroke-width="0.8" stroke-opacity="0.8"/>
<line x1="488.8" y1="554.2" x2="494.8" y2="554.2" stroke="#d42020" stroke-width="0.8" stroke-opacity="0.8"/>
<circle cx="491.8" cy="553.3" r="5.6" fill="none" stroke="#d42020" stroke-width="2"/>
<line x1="505.1" y1="551.0" x2="505.1" y2="560.2" stroke="#e07a7a" stroke-width="0.9"/>
<line x1="502.1" y1="554.7" x2="508.1" y2="554.7" stroke="#d42020" stroke-width="0.8" stroke-opacity="0.8"/>
<line x1="502.1" y1="556.5" x2="508.1" y2="556.5" stroke="#d42020" stroke-width="0.8" stroke-opacity="0.8"/>
<circle cx="505.1" cy="555.6" r="5.6" fill="none" stroke="#d42020" stroke-width="2"/>
<line x1="518.1" y1="552.4" x2="518.1" y2="561.6" stroke="#e07a7a" stroke-width="0.9"/>
<line x1="515.1" y1="556.1" x2="521.1" y2="556.1" stroke="#d42020" stroke-width="0.8" stroke-opacity="0.8"/>
<line x1="515.1" y1="557.9" x2="521.1" y2="557.9" stroke="#d42020" stroke-width="0.8" stroke-opacity="0.8"/>
<circle cx="518.1" cy="557.0" r="5.6" fill="none" stroke="#d42020" stroke-width="2"/>
<line x1="531.7" y1="552.4" x2="531.7" y2="561.6" stroke="#e07a7a" stroke-width="0.9"/>
<line x1="528.7" y1="556.1" x2="534.7" y2="556.1" stroke="#d42020" stroke-width="0.8" stroke-opacity="0.8"/>
<line x1="528.7" y1="557.9" x2="534.7" y2="557.9" stroke="#d42020" stroke-width="0.8" stroke-opacity="0.8"/>
<circle cx="531.7" cy="557.0" r="5.6" fill="none" stroke="#d42020" stroke-width="2"/>
<line x1="548.6" y1="549.4" x2="548.6" y2="558.6" stroke="#e07a7a" stroke-width="0.9"/>
<line x1="545.6" y1="553.1" x2="551.6" y2="553.1" stroke="#d42020" stroke-width="0.8" stroke-opacity="0.8"/>
<line x1="545.6" y1="554.9" x2="551.6" y2="554.9" stroke="#d42020" stroke-width="0.8" stroke-opacity="0.8"/>
<circle cx="548.6" cy="554.0" r="5.6" fill="none" stroke="#d42020" stroke-width="2"/>
<line x1="562.1" y1="548.3" x2="562.1" y2="557.5" stroke="#e07a7a" stroke-width="0.9"/>
<line x1="559.1" y1="552.0" x2="565.1" y2="552.0" stroke="#d42020" stroke-width="0.8" stroke-opacity="0.8"/>
<line x1="559.1" y1="553.8" x2="565.1" y2="553.8" stroke="#d42020" stroke-width="0.8" stroke-opacity="0.8"/>
<circle cx="562.1" cy="552.9" r="5.6" fill="none" stroke="#d42020" stroke-width="2"/>
<line x1="579.0" y1="549.4" x2="579.0" y2="558.6" stroke="#e07a7a" stroke-width="0.9"/>
<line x1="576.0" y1="553.1" x2="582.0" y2="553.1" stroke="#d42020" stroke-width="0.8" stroke-opacity="0.8"/>
<line x1="576.0" y1="554.9" x2="582.0" y2="554.9" stroke="#d42020" stroke-width="0.8" stroke-opacity="0.8"/>
<circle cx="579.0" cy="554.0" r="5.6" fill="none" stroke="#d42020" stroke-width="2"/>
<line x1="588.5" y1="548.3" x2="588.5" y2="557.5" stroke="#e07a7a" stroke-width="0.9"/>
<line x1="585.5" y1="552.0" x2="591.5" y2="552.0" stroke="#d42020" stroke-width="0.8" stroke-opacity="0.8"/>
<line x1="585.5" y1="553.8" x2="591.5" y2="553.8" stroke="#d42020" stroke-width="0.8" stroke-opacity="0.8"/>
<circle cx="588.5" cy="552.9" r="5.6" fill="none" stroke="#d42020" stroke-width="2"/>
<circle cx="67.9" cy="480.7" r="6.6" fill="#66985b"/>
<circle cx="66.0" cy="478.6" r="4.09" fill="url(#hl)"/>
<circle cx="80.7" cy="496.5" r="6.6" fill="#66985b"/>
<circle cx="78.8" cy="494.4" r="4.09" fill="url(#hl)"/>
<circle cx="93.8" cy="484.1" r="6.6" fill="#66985b"/>
<circle cx="91.9" cy="482.0" r="4.09" fill="url(#hl)"/>
<circle cx="106.9" cy="489.7" r="6.6" fill="#66985b"/>
<circle cx="105.0" cy="487.6" r="4.09" fill="url(#hl)"/>
<circle cx="120.4" cy="478.0" r="6.6" fill="#66985b"/>
<circle cx="118.5" cy="475.9" r="4.09" fill="url(#hl)"/>
<circle cx="133.3" cy="475.1" r="6.6" fill="#66985b"/>
<circle cx="131.4" cy="473.0" r="4.09" fill="url(#hl)"/>
<circle cx="146.1" cy="458.6" r="6.6" fill="#66985b"/>
<circle cx="144.2" cy="456.5" r="4.09" fill="url(#hl)"/>
<circle cx="159.2" cy="481.2" r="6.6" fill="#66985b"/>
<circle cx="157.3" cy="479.1" r="4.09" fill="url(#hl)"/>
<circle cx="172.3" cy="445.1" r="6.6" fill="#66985b"/>
<circle cx="170.4" cy="443.0" r="4.09" fill="url(#hl)"/>
<circle cx="185.1" cy="445.8" r="6.6" fill="#66985b"/>
<circle cx="183.2" cy="443.7" r="4.09" fill="url(#hl)"/>
<circle cx="198.4" cy="450.9" r="6.6" fill="#66985b"/>
<circle cx="196.5" cy="448.8" r="4.09" fill="url(#hl)"/>
<circle cx="211.9" cy="456.3" r="6.6" fill="#66985b"/>
<circle cx="210.0" cy="454.2" r="4.09" fill="url(#hl)"/>
<circle cx="225.0" cy="434.5" r="6.6" fill="#66985b"/>
<circle cx="223.1" cy="432.4" r="4.09" fill="url(#hl)"/>
<circle cx="238.3" cy="430.6" r="6.6" fill="#66985b"/>
<circle cx="236.4" cy="428.5" r="4.09" fill="url(#hl)"/>
<circle cx="251.4" cy="446.4" r="6.6" fill="#66985b"/>
<circle cx="249.5" cy="444.3" r="4.09" fill="url(#hl)"/>
<circle cx="264.4" cy="451.8" r="6.6" fill="#66985b"/>
<circle cx="262.5" cy="449.7" r="4.09" fill="url(#hl)"/>
<circle cx="278.0" cy="469.0" r="6.6" fill="#66985b"/>
<circle cx="276.1" cy="466.9" r="4.09" fill="url(#hl)"/>
<circle cx="290.8" cy="485.2" r="6.6" fill="#66985b"/>
<circle cx="288.9" cy="483.1" r="4.09" fill="url(#hl)"/>
<circle cx="304.3" cy="484.7" r="6.6" fill="#66985b"/>
<circle cx="302.4" cy="482.6" r="4.09" fill="url(#hl)"/>
<circle cx="317.2" cy="494.2" r="6.6" fill="#66985b"/>
<circle cx="315.3" cy="492.1" r="4.09" fill="url(#hl)"/>
<circle cx="330.2" cy="483.8" r="6.6" fill="#66985b"/>
<circle cx="328.3" cy="481.7" r="4.09" fill="url(#hl)"/>
<circle cx="343.0" cy="459.3" r="6.6" fill="#66985b"/>
<circle cx="341.1" cy="457.2" r="4.09" fill="url(#hl)"/>
<circle cx="356.1" cy="471.7" r="6.6" fill="#66985b"/>
<circle cx="354.2" cy="469.6" r="4.09" fill="url(#hl)"/>
<circle cx="369.6" cy="487.4" r="6.6" fill="#66985b"/>
<circle cx="367.7" cy="485.3" r="4.09" fill="url(#hl)"/>
<circle cx="383.2" cy="479.6" r="6.6" fill="#66985b"/>
<circle cx="381.3" cy="477.5" r="4.09" fill="url(#hl)"/>
<circle cx="399.8" cy="485.6" r="6.6" fill="#66985b"/>
<circle cx="397.9" cy="483.5" r="4.09" fill="url(#hl)"/>
<circle cx="412.9" cy="473.5" r="6.6" fill="#66985b"/>
<circle cx="411.0" cy="471.4" r="4.09" fill="url(#hl)"/>
<circle cx="426.4" cy="455.9" r="6.6" fill="#66985b"/>
<circle cx="424.5" cy="453.8" r="4.09" fill="url(#hl)"/>
<circle cx="440.0" cy="473.5" r="6.6" fill="#66985b"/>
<circle cx="438.1" cy="471.4" r="4.09" fill="url(#hl)"/>
<circle cx="453.0" cy="492.0" r="6.6" fill="#66985b"/>
<circle cx="451.1" cy="489.9" r="4.09" fill="url(#hl)"/>
<circle cx="465.8" cy="496.1" r="6.6" fill="#66985b"/>
<circle cx="463.9" cy="494.0" r="4.09" fill="url(#hl)"/>
<circle cx="478.7" cy="476.2" r="6.6" fill="#66985b"/>
<circle cx="476.8" cy="474.1" r="4.09" fill="url(#hl)"/>
<circle cx="491.8" cy="459.3" r="6.6" fill="#66985b"/>
<circle cx="489.9" cy="457.2" r="4.09" fill="url(#hl)"/>
<circle cx="505.1" cy="478.9" r="6.6" fill="#66985b"/>
<circle cx="503.2" cy="476.8" r="4.09" fill="url(#hl)"/>
<circle cx="518.1" cy="468.3" r="6.6" fill="#66985b"/>
<circle cx="516.2" cy="466.2" r="4.09" fill="url(#hl)"/>
<circle cx="531.7" cy="486.4" r="6.6" fill="#66985b"/>
<circle cx="529.8" cy="484.3" r="4.09" fill="url(#hl)"/>
<circle cx="548.6" cy="477.3" r="6.6" fill="#66985b"/>
<circle cx="546.7" cy="475.2" r="4.09" fill="url(#hl)"/>
<circle cx="562.1" cy="487.5" r="6.6" fill="#66985b"/>
<circle cx="560.2" cy="485.4" r="4.09" fill="url(#hl)"/>
<circle cx="579.0" cy="462.2" r="6.6" fill="#66985b"/>
<circle cx="577.1" cy="460.1" r="4.09" fill="url(#hl)"/>
<circle cx="588.5" cy="478.0" r="6.6" fill="#66985b"/>
<circle cx="586.6" cy="475.9" r="4.09" fill="url(#hl)"/>
</g>
<rect x="63.5" y="390.8" width="533.7" height="173.09999999999997" fill="none" stroke="#000" stroke-width="2"/>
<g clip-path="url(#clipd)">
<line x1="372.8" y1="582.9" x2="372.8" y2="756.8" stroke="#9c9c9c" stroke-width="1.4" stroke-dasharray="3.6,4.3" stroke-dashoffset="3.4"/>
<polyline points="64.5,636.6 76.9,625.8 90.4,637.8 104.0,622.6 117.5,652.0 131.0,625.8 144.5,633.3 157.4,631.0 170.9,624.9 184.4,633.9 198.6,628.0 210.8,623.1 224.8,632.6 238.3,628.0 251.4,626.5 265.3,614.5 278.9,621.3 292.4,606.2 305.5,611.8 319.0,631.0 332.9,626.5 346.4,611.8 358.8,619.7 372.3,634.4 385.4,717.8 403.9,700.9 417.4,638.4 431.0,616.8 444.5,606.2 457.7,632.1 471.2,617.5 485.4,642.3 498.3,628.1 511.8,649.7 526.0,623.1 538.9,620.8 556.5,629.4 570.0,632.1 589.2,643.4 600.0,630.0" fill="none" stroke="#e8822a" stroke-width="2" stroke-linejoin="miter"/>
<polygon points="67.9,672.2 80.7,654.3 93.8,667.3 107.3,661.7 120.9,671.1 133.9,650.9 147.2,676.9 160.3,666.6 173.2,659.4 186.7,650.9 199.5,645.1 212.6,641.1 226.1,646.3 239.6,636.4 252.5,624.7 266.0,614.3 278.9,648.5 292.4,605.9 305.5,609.2 319.0,624.9 331.8,621.4 345.7,605.9 358.8,607.0 371.9,656.7 385.4,651.0 402.8,650.5 416.3,632.6 429.1,630.7 442.7,609.5 455.9,662.5 469.1,642.2 482.2,655.1 495.6,625.6 509.1,648.7 522.2,637.5 535.1,630.1 552.4,647.5 566.0,620.7 583.6,636.3 592.6,655.8 592.6,679.8 583.6,657.3 566.0,651.7 552.4,669.9 535.1,653.1 522.2,657.5 509.1,668.7 495.6,646.8 482.2,690.1 469.1,672.2 455.9,682.5 442.7,624.1 429.1,650.7 416.3,663.2 402.8,679.1 385.4,671.0 371.9,674.3 358.8,637.0 345.7,625.9 331.8,637.4 319.0,643.9 305.5,621.2 292.4,619.9 278.9,676.5 266.0,636.3 252.5,657.5 239.6,658.4 226.1,659.3 212.6,651.1 199.5,655.1 186.7,662.9 173.2,673.4 160.3,676.6 147.2,688.9 133.9,672.9 120.9,685.7 107.3,675.7 93.8,677.3 80.7,666.3 67.9,692.2" fill="rgb(213,215,215)" fill-opacity="0.6"/>
<line x1="67.9" y1="738.4" x2="67.9" y2="747.6" stroke="#80c078" stroke-width="0.9"/>
<line x1="64.9" y1="742.1" x2="70.9" y2="742.1" stroke="#38a52c" stroke-width="0.8" stroke-opacity="0.8"/>
<line x1="64.9" y1="743.9" x2="70.9" y2="743.9" stroke="#38a52c" stroke-width="0.8" stroke-opacity="0.8"/>
<circle cx="67.9" cy="743.0" r="5.6" fill="none" stroke="#38a52c" stroke-width="2"/>
<line x1="80.7" y1="737.6" x2="80.7" y2="746.8" stroke="#80c078" stroke-width="0.9"/>
<line x1="77.7" y1="741.3" x2="83.7" y2="741.3" stroke="#38a52c" stroke-width="0.8" stroke-opacity="0.8"/>
<line x1="77.7" y1="743.1" x2="83.7" y2="743.1" stroke="#38a52c" stroke-width="0.8" stroke-opacity="0.8"/>
<circle cx="80.7" cy="742.2" r="5.6" fill="none" stroke="#38a52c" stroke-width="2"/>
<line x1="93.8" y1="736.9" x2="93.8" y2="746.1" stroke="#80c078" stroke-width="0.9"/>
<line x1="90.8" y1="740.6" x2="96.8" y2="740.6" stroke="#38a52c" stroke-width="0.8" stroke-opacity="0.8"/>
<line x1="90.8" y1="742.4" x2="96.8" y2="742.4" stroke="#38a52c" stroke-width="0.8" stroke-opacity="0.8"/>
<circle cx="93.8" cy="741.5" r="5.6" fill="none" stroke="#38a52c" stroke-width="2"/>
<line x1="107.3" y1="739.1" x2="107.3" y2="748.3" stroke="#80c078" stroke-width="0.9"/>
<line x1="104.3" y1="742.8" x2="110.3" y2="742.8" stroke="#38a52c" stroke-width="0.8" stroke-opacity="0.8"/>
<line x1="104.3" y1="744.6" x2="110.3" y2="744.6" stroke="#38a52c" stroke-width="0.8" stroke-opacity="0.8"/>
<circle cx="107.3" cy="743.7" r="5.6" fill="none" stroke="#38a52c" stroke-width="2"/>
<line x1="120.9" y1="735.3" x2="120.9" y2="744.5" stroke="#80c078" stroke-width="0.9"/>
<line x1="117.9" y1="739.0" x2="123.9" y2="739.0" stroke="#38a52c" stroke-width="0.8" stroke-opacity="0.8"/>
<line x1="117.9" y1="740.8" x2="123.9" y2="740.8" stroke="#38a52c" stroke-width="0.8" stroke-opacity="0.8"/>
<circle cx="120.9" cy="739.9" r="5.6" fill="none" stroke="#38a52c" stroke-width="2"/>
<line x1="133.9" y1="738.0" x2="133.9" y2="747.2" stroke="#80c078" stroke-width="0.9"/>
<line x1="130.9" y1="741.7" x2="136.9" y2="741.7" stroke="#38a52c" stroke-width="0.8" stroke-opacity="0.8"/>
<line x1="130.9" y1="743.5" x2="136.9" y2="743.5" stroke="#38a52c" stroke-width="0.8" stroke-opacity="0.8"/>
<circle cx="133.9" cy="742.6" r="5.6" fill="none" stroke="#38a52c" stroke-width="2"/>
<line x1="147.2" y1="739.1" x2="147.2" y2="748.3" stroke="#80c078" stroke-width="0.9"/>
<line x1="144.2" y1="742.8" x2="150.2" y2="742.8" stroke="#38a52c" stroke-width="0.8" stroke-opacity="0.8"/>
<line x1="144.2" y1="744.6" x2="150.2" y2="744.6" stroke="#38a52c" stroke-width="0.8" stroke-opacity="0.8"/>
<circle cx="147.2" cy="743.7" r="5.6" fill="none" stroke="#38a52c" stroke-width="2"/>
<line x1="160.3" y1="738.4" x2="160.3" y2="747.6" stroke="#80c078" stroke-width="0.9"/>
<line x1="157.3" y1="742.1" x2="163.3" y2="742.1" stroke="#38a52c" stroke-width="0.8" stroke-opacity="0.8"/>
<line x1="157.3" y1="743.9" x2="163.3" y2="743.9" stroke="#38a52c" stroke-width="0.8" stroke-opacity="0.8"/>
<circle cx="160.3" cy="743.0" r="5.6" fill="none" stroke="#38a52c" stroke-width="2"/>
<line x1="173.2" y1="739.1" x2="173.2" y2="748.3" stroke="#80c078" stroke-width="0.9"/>
<line x1="170.2" y1="742.8" x2="176.2" y2="742.8" stroke="#38a52c" stroke-width="0.8" stroke-opacity="0.8"/>
<line x1="170.2" y1="744.6" x2="176.2" y2="744.6" stroke="#38a52c" stroke-width="0.8" stroke-opacity="0.8"/>
<circle cx="173.2" cy="743.7" r="5.6" fill="none" stroke="#38a52c" stroke-width="2"/>
<line x1="186.7" y1="735.8" x2="186.7" y2="745.0" stroke="#80c078" stroke-width="0.9"/>
<line x1="183.7" y1="739.5" x2="189.7" y2="739.5" stroke="#38a52c" stroke-width="0.8" stroke-opacity="0.8"/>
<line x1="183.7" y1="741.3" x2="189.7" y2="741.3" stroke="#38a52c" stroke-width="0.8" stroke-opacity="0.8"/>
<circle cx="186.7" cy="740.4" r="5.6" fill="none" stroke="#38a52c" stroke-width="2"/>
<line x1="199.5" y1="736.2" x2="199.5" y2="745.4" stroke="#80c078" stroke-width="0.9"/>
<line x1="196.5" y1="739.9" x2="202.5" y2="739.9" stroke="#38a52c" stroke-width="0.8" stroke-opacity="0.8"/>
<line x1="196.5" y1="741.7" x2="202.5" y2="741.7" stroke="#38a52c" stroke-width="0.8" stroke-opacity="0.8"/>
<circle cx="199.5" cy="740.8" r="5.6" fill="none" stroke="#38a52c" stroke-width="2"/>
<line x1="212.6" y1="737.5" x2="212.6" y2="746.7" stroke="#80c078" stroke-width="0.9"/>
<line x1="209.6" y1="741.2" x2="215.6" y2="741.2" stroke="#38a52c" stroke-width="0.8" stroke-opacity="0.8"/>
<line x1="209.6" y1="743.0" x2="215.6" y2="743.0" stroke="#38a52c" stroke-width="0.8" stroke-opacity="0.8"/>
<circle cx="212.6" cy="742.1" r="5.6" fill="none" stroke="#38a52c" stroke-width="2"/>
<line x1="226.1" y1="735.3" x2="226.1" y2="744.5" stroke="#80c078" stroke-width="0.9"/>
<line x1="223.1" y1="739.0" x2="229.1" y2="739.0" stroke="#38a52c" stroke-width="0.8" stroke-opacity="0.8"/>
<line x1="223.1" y1="740.8" x2="229.1" y2="740.8" stroke="#38a52c" stroke-width="0.8" stroke-opacity="0.8"/>
<circle cx="226.1" cy="739.9" r="5.6" fill="none" stroke="#38a52c" stroke-width="2"/>
<line x1="239.6" y1="735.7" x2="239.6" y2="744.9" stroke="#80c078" stroke-width="0.9"/>
<line x1="236.6" y1="739.4" x2="242.6" y2="739.4" stroke="#38a52c" stroke-width="0.8" stroke-opacity="0.8"/>
<line x1="236.6" y1="741.2" x2="242.6" y2="741.2" stroke="#38a52c" stroke-width="0.8" stroke-opacity="0.8"/>
<circle cx="239.6" cy="740.3" r="5.6" fill="none" stroke="#38a52c" stroke-width="2"/>
<line x1="252.5" y1="735.7" x2="252.5" y2="744.9" stroke="#80c078" stroke-width="0.9"/>
<line x1="249.5" y1="739.4" x2="255.5" y2="739.4" stroke="#38a52c" stroke-width="0.8" stroke-opacity="0.8"/>
<line x1="249.5" y1="741.2" x2="255.5" y2="741.2" stroke="#38a52c" stroke-width="0.8" stroke-opacity="0.8"/>
<circle cx="252.5" cy="740.3" r="5.6" fill="none" stroke="#38a52c" stroke-width="2"/>
<line x1="266.0" y1="737.5" x2="266.0" y2="746.7" stroke="#80c078" stroke-width="0.9"/>
<line x1="263.0" y1="741.2" x2="269.0" y2="741.2" stroke="#38a52c" stroke-width="0.8" stroke-opacity="0.8"/>
<line x1="263.0" y1="743.0" x2="269.0" y2="743.0" stroke="#38a52c" stroke-width="0.8" stroke-opacity="0.8"/>
<circle cx="266.0" cy="742.1" r="5.6" fill="none" stroke="#38a52c" stroke-width="2"/>
<line x1="278.9" y1="739.1" x2="278.9" y2="748.3" stroke="#80c078" stroke-width="0.9"/>
<line x1="275.9" y1="742.8" x2="281.9" y2="742.8" stroke="#38a52c" stroke-width="0.8" stroke-opacity="0.8"/>
<line x1="275.9" y1="744.6" x2="281.9" y2="744.6" stroke="#38a52c" stroke-width="0.8" stroke-opacity="0.8"/>
<circle cx="278.9" cy="743.7" r="5.6" fill="none" stroke="#38a52c" stroke-width="2"/>
<line x1="292.4" y1="738.4" x2="292.4" y2="747.6" stroke="#80c078" stroke-width="0.9"/>
<line x1="289.4" y1="742.1" x2="295.4" y2="742.1" stroke="#38a52c" stroke-width="0.8" stroke-opacity="0.8"/>
<line x1="289.4" y1="743.9" x2="295.4" y2="743.9" stroke="#38a52c" stroke-width="0.8" stroke-opacity="0.8"/>
<circle cx="292.4" cy="743.0" r="5.6" fill="none" stroke="#38a52c" stroke-width="2"/>
<line x1="305.5" y1="736.2" x2="305.5" y2="745.4" stroke="#80c078" stroke-width="0.9"/>
<line x1="302.5" y1="739.9" x2="308.5" y2="739.9" stroke="#38a52c" stroke-width="0.8" stroke-opacity="0.8"/>
<line x1="302.5" y1="741.7" x2="308.5" y2="741.7" stroke="#38a52c" stroke-width="0.8" stroke-opacity="0.8"/>
<circle cx="305.5" cy="740.8" r="5.6" fill="none" stroke="#38a52c" stroke-width="2"/>
<line x1="319.0" y1="733.9" x2="319.0" y2="743.1" stroke="#80c078" stroke-width="0.9"/>
<line x1="316.0" y1="737.6" x2="322.0" y2="737.6" stroke="#38a52c" stroke-width="0.8" stroke-opacity="0.8"/>
<line x1="316.0" y1="739.4" x2="322.0" y2="739.4" stroke="#38a52c" stroke-width="0.8" stroke-opacity="0.8"/>
<circle cx="319.0" cy="738.5" r="5.6" fill="none" stroke="#38a52c" stroke-width="2"/>
<line x1="331.8" y1="733.9" x2="331.8" y2="743.1" stroke="#80c078" stroke-width="0.9"/>
<line x1="328.8" y1="737.6" x2="334.8" y2="737.6" stroke="#38a52c" stroke-width="0.8" stroke-opacity="0.8"/>
<line x1="328.8" y1="739.4" x2="334.8" y2="739.4" stroke="#38a52c" stroke-width="0.8" stroke-opacity="0.8"/>
<circle cx="331.8" cy="738.5" r="5.6" fill="none" stroke="#38a52c" stroke-width="2"/>
<line x1="345.7" y1="738.4" x2="345.7" y2="747.6" stroke="#80c078" stroke-width="0.9"/>
<line x1="342.7" y1="742.1" x2="348.7" y2="742.1" stroke="#38a52c" stroke-width="0.8" stroke-opacity="0.8"/>
<line x1="342.7" y1="743.9" x2="348.7" y2="743.9" stroke="#38a52c" stroke-width="0.8" stroke-opacity="0.8"/>
<circle cx="345.7" cy="743.0" r="5.6" fill="none" stroke="#38a52c" stroke-width="2"/>
<line x1="358.8" y1="735.7" x2="358.8" y2="744.9" stroke="#80c078" stroke-width="0.9"/>
<line x1="355.8" y1="739.4" x2="361.8" y2="739.4" stroke="#38a52c" stroke-width="0.8" stroke-opacity="0.8"/>
<line x1="355.8" y1="741.2" x2="361.8" y2="741.2" stroke="#38a52c" stroke-width="0.8" stroke-opacity="0.8"/>
<circle cx="358.8" cy="740.3" r="5.6" fill="none" stroke="#38a52c" stroke-width="2"/>
<line x1="371.9" y1="737.5" x2="371.9" y2="746.7" stroke="#80c078" stroke-width="0.9"/>
<line x1="368.9" y1="741.2" x2="374.9" y2="741.2" stroke="#38a52c" stroke-width="0.8" stroke-opacity="0.8"/>
<line x1="368.9" y1="743.0" x2="374.9" y2="743.0" stroke="#38a52c" stroke-width="0.8" stroke-opacity="0.8"/>
<circle cx="371.9" cy="742.1" r="5.6" fill="none" stroke="#38a52c" stroke-width="2"/>
<line x1="385.4" y1="716.5" x2="385.4" y2="725.7" stroke="#80c078" stroke-width="0.9"/>
<line x1="382.4" y1="720.2" x2="388.4" y2="720.2" stroke="#38a52c" stroke-width="0.8" stroke-opacity="0.8"/>
<line x1="382.4" y1="722.0" x2="388.4" y2="722.0" stroke="#38a52c" stroke-width="0.8" stroke-opacity="0.8"/>
<circle cx="385.4" cy="721.1" r="5.6" fill="none" stroke="#38a52c" stroke-width="2"/>
<line x1="402.8" y1="722.6" x2="402.8" y2="731.8" stroke="#80c078" stroke-width="0.9"/>
<line x1="399.8" y1="726.3" x2="405.8" y2="726.3" stroke="#38a52c" stroke-width="0.8" stroke-opacity="0.8"/>
<line x1="399.8" y1="728.1" x2="405.8" y2="728.1" stroke="#38a52c" stroke-width="0.8" stroke-opacity="0.8"/>
<circle cx="402.8" cy="727.2" r="5.6" fill="none" stroke="#38a52c" stroke-width="2"/>
<line x1="416.3" y1="733.9" x2="416.3" y2="743.1" stroke="#80c078" stroke-width="0.9"/>
<line x1="413.3" y1="737.6" x2="419.3" y2="737.6" stroke="#38a52c" stroke-width="0.8" stroke-opacity="0.8"/>
<line x1="413.3" y1="739.4" x2="419.3" y2="739.4" stroke="#38a52c" stroke-width="0.8" stroke-opacity="0.8"/>
<circle cx="416.3" cy="738.5" r="5.6" fill="none" stroke="#38a52c" stroke-width="2"/>
<line x1="429.1" y1="738.4" x2="429.1" y2="747.6" stroke="#80c078" stroke-width="0.9"/>
<line x1="426.1" y1="742.1" x2="432.1" y2="742.1" stroke="#38a52c" stroke-width="0.8" stroke-opacity="0.8"/>
<line x1="426.1" y1="743.9" x2="432.1" y2="743.9" stroke="#38a52c" stroke-width="0.8" stroke-opacity="0.8"/>
<circle cx="429.1" cy="743.0" r="5.6" fill="none" stroke="#38a52c" stroke-width="2"/>
<line x1="442.7" y1="739.8" x2="442.7" y2="749.0" stroke="#80c078" stroke-width="0.9"/>
<line x1="439.7" y1="743.5" x2="445.7" y2="743.5" stroke="#38a52c" stroke-width="0.8" stroke-opacity="0.8"/>
<line x1="439.7" y1="745.3" x2="445.7" y2="745.3" stroke="#38a52c" stroke-width="0.8" stroke-opacity="0.8"/>
<circle cx="442.7" cy="744.4" r="5.6" fill="none" stroke="#38a52c" stroke-width="2"/>
<line x1="455.9" y1="738.0" x2="455.9" y2="747.2" stroke="#80c078" stroke-width="0.9"/>
<line x1="452.9" y1="741.7" x2="458.9" y2="741.7" stroke="#38a52c" stroke-width="0.8" stroke-opacity="0.8"/>
<line x1="452.9" y1="743.5" x2="458.9" y2="743.5" stroke="#38a52c" stroke-width="0.8" stroke-opacity="0.8"/>
<circle cx="455.9" cy="742.6" r="5.6" fill="none" stroke="#38a52c" stroke-width="2"/>
<line x1="469.1" y1="739.8" x2="469.1" y2="749.0" stroke="#80c078" stroke-width="0.9"/>
<line x1="466.1" y1="743.5" x2="472.1" y2="743.5" stroke="#38a52c" stroke-width="0.8" stroke-opacity="0.8"/>
<line x1="466.1" y1="745.3" x2="472.1" y2="745.3" stroke="#38a52c" stroke-width="0.8" stroke-opacity="0.8"/>
<circle cx="469.1" cy="744.4" r="5.6" fill="none" stroke="#38a52c" stroke-width="2"/>
<line x1="482.2" y1="736.2" x2="482.2" y2="745.4" stroke="#80c078" stroke-width="0.9"/>
<line x1="479.2" y1="739.9" x2="485.2" y2="739.9" stroke="#38a52c" stroke-width="0.8" stroke-opacity="0.8"/>
<line x1="479.2" y1="741.7" x2="485.2" y2="741.7" stroke="#38a52c" stroke-width="0.8" stroke-opacity="0.8"/>
<circle cx="482.2" cy="740.8" r="5.6" fill="none" stroke="#38a52c" stroke-width="2"/>
<line x1="495.6" y1="734.7" x2="495.6" y2="743.9" stroke="#80c078" stroke-width="0.9"/>
<line x1="492.6" y1="738.4" x2="498.6" y2="738.4" stroke="#38a52c" stroke-width="0.8" stroke-opacity="0.8"/>
<line x1="492.6" y1="740.2" x2="498.6" y2="740.2" stroke="#38a52c" stroke-width="0.8" stroke-opacity="0.8"/>
<circle cx="495.6" cy="739.3" r="5.6" fill="none" stroke="#38a52c" stroke-width="2"/>
<line x1="509.1" y1="732.4" x2="509.1" y2="741.6" stroke="#80c078" stroke-width="0.9"/>
<line x1="506.1" y1="736.1" x2="512.1" y2="736.1" stroke="#38a52c" stroke-width="0.8" stroke-opacity="0.8"/>
<line x1="506.1" y1="737.9" x2="512.1" y2="737.9" stroke="#38a52c" stroke-width="0.8" stroke-opacity="0.8"/>
<circle cx="509.1" cy="737.0" r="5.6" fill="none" stroke="#38a52c" stroke-width="2"/>
<line x1="522.2" y1="737.6" x2="522.2" y2="746.8" stroke="#80c078" stroke-width="0.9"/>
<line x1="519.2" y1="741.3" x2="525.2" y2="741.3" stroke="#38a52c" stroke-width="0.8" stroke-opacity="0.8"/>
<line x1="519.2" y1="743.1" x2="525.2" y2="743.1" stroke="#38a52c" stroke-width="0.8" stroke-opacity="0.8"/>
<circle cx="522.2" cy="742.2" r="5.6" fill="none" stroke="#38a52c" stroke-width="2"/>
<line x1="535.1" y1="738.0" x2="535.1" y2="747.2" stroke="#80c078" stroke-width="0.9"/>
<line x1="532.1" y1="741.7" x2="538.1" y2="741.7" stroke="#38a52c" stroke-width="0.8" stroke-opacity="0.8"/>
<line x1="532.1" y1="743.5" x2="538.1" y2="743.5" stroke="#38a52c" stroke-width="0.8" stroke-opacity="0.8"/>
<circle cx="535.1" cy="742.6" r="5.6" fill="none" stroke="#38a52c" stroke-width="2"/>
<line x1="552.4" y1="737.6" x2="552.4" y2="746.8" stroke="#80c078" stroke-width="0.9"/>
<line x1="549.4" y1="741.3" x2="555.4" y2="741.3" stroke="#38a52c" stroke-width="0.8" stroke-opacity="0.8"/>
<line x1="549.4" y1="743.1" x2="555.4" y2="743.1" stroke="#38a52c" stroke-width="0.8" stroke-opacity="0.8"/>
<circle cx="552.4" cy="742.2" r="5.6" fill="none" stroke="#38a52c" stroke-width="2"/>
<line x1="566.0" y1="734.7" x2="566.0" y2="743.9" stroke="#80c078" stroke-width="0.9"/>
<line x1="563.0" y1="738.4" x2="569.0" y2="738.4" stroke="#38a52c" stroke-width="0.8" stroke-opacity="0.8"/>
<line x1="563.0" y1="740.2" x2="569.0" y2="740.2" stroke="#38a52c" stroke-width="0.8" stroke-opacity="0.8"/>
<circle cx="566.0" cy="739.3" r="5.6" fill="none" stroke="#38a52c" stroke-width="2"/>
<line x1="583.6" y1="732.4" x2="583.6" y2="741.6" stroke="#80c078" stroke-width="0.9"/>
<line x1="580.6" y1="736.1" x2="586.6" y2="736.1" stroke="#38a52c" stroke-width="0.8" stroke-opacity="0.8"/>
<line x1="580.6" y1="737.9" x2="586.6" y2="737.9" stroke="#38a52c" stroke-width="0.8" stroke-opacity="0.8"/>
<circle cx="583.6" cy="737.0" r="5.6" fill="none" stroke="#38a52c" stroke-width="2"/>
<line x1="592.6" y1="737.6" x2="592.6" y2="746.8" stroke="#80c078" stroke-width="0.9"/>
<line x1="589.6" y1="741.3" x2="595.6" y2="741.3" stroke="#38a52c" stroke-width="0.8" stroke-opacity="0.8"/>
<line x1="589.6" y1="743.1" x2="595.6" y2="743.1" stroke="#38a52c" stroke-width="0.8" stroke-opacity="0.8"/>
<circle cx="592.6" cy="742.2" r="5.6" fill="none" stroke="#38a52c" stroke-width="2"/>
<circle cx="67.9" cy="682.2" r="6.6" fill="#808080"/>
<circle cx="66.0" cy="680.1" r="4.09" fill="url(#hl)"/>
<circle cx="80.7" cy="660.3" r="6.6" fill="#808080"/>
<circle cx="78.8" cy="658.2" r="4.09" fill="url(#hl)"/>
<circle cx="93.8" cy="672.3" r="6.6" fill="#808080"/>
<circle cx="91.9" cy="670.2" r="4.09" fill="url(#hl)"/>
<circle cx="107.3" cy="668.7" r="6.6" fill="#808080"/>
<circle cx="105.4" cy="666.6" r="4.09" fill="url(#hl)"/>
<circle cx="120.9" cy="678.4" r="6.6" fill="#808080"/>
<circle cx="119.0" cy="676.3" r="4.09" fill="url(#hl)"/>
<circle cx="133.9" cy="661.9" r="6.6" fill="#808080"/>
<circle cx="132.0" cy="659.8" r="4.09" fill="url(#hl)"/>
<circle cx="147.2" cy="682.9" r="6.6" fill="#808080"/>
<circle cx="145.3" cy="680.8" r="4.09" fill="url(#hl)"/>
<circle cx="160.3" cy="671.6" r="6.6" fill="#808080"/>
<circle cx="158.4" cy="669.5" r="4.09" fill="url(#hl)"/>
<circle cx="173.2" cy="666.4" r="6.6" fill="#808080"/>
<circle cx="171.3" cy="664.3" r="4.09" fill="url(#hl)"/>
<circle cx="186.7" cy="656.9" r="6.6" fill="#808080"/>
<circle cx="184.8" cy="654.8" r="4.09" fill="url(#hl)"/>
<circle cx="199.5" cy="650.1" r="6.6" fill="#808080"/>
<circle cx="197.6" cy="648.0" r="4.09" fill="url(#hl)"/>
<circle cx="212.6" cy="646.1" r="6.6" fill="#808080"/>
<circle cx="210.7" cy="644.0" r="4.09" fill="url(#hl)"/>
<circle cx="226.1" cy="652.8" r="6.6" fill="#808080"/>
<circle cx="224.2" cy="650.7" r="4.09" fill="url(#hl)"/>
<circle cx="239.6" cy="647.4" r="6.6" fill="#808080"/>
<circle cx="237.7" cy="645.3" r="4.09" fill="url(#hl)"/>
<circle cx="252.5" cy="641.1" r="6.6" fill="#808080"/>
<circle cx="250.6" cy="639.0" r="4.09" fill="url(#hl)"/>
<circle cx="266.0" cy="625.3" r="6.6" fill="#808080"/>
<circle cx="264.1" cy="623.2" r="4.09" fill="url(#hl)"/>
<circle cx="278.9" cy="662.5" r="6.6" fill="#808080"/>
<circle cx="277.0" cy="660.4" r="4.09" fill="url(#hl)"/>
<circle cx="292.4" cy="612.9" r="6.6" fill="#808080"/>
<circle cx="290.5" cy="610.8" r="4.09" fill="url(#hl)"/>
<circle cx="305.5" cy="615.2" r="6.6" fill="#808080"/>
<circle cx="303.6" cy="613.1" r="4.09" fill="url(#hl)"/>
<circle cx="319.0" cy="634.4" r="6.6" fill="#808080"/>
<circle cx="317.1" cy="632.3" r="4.09" fill="url(#hl)"/>
<circle cx="331.8" cy="629.4" r="6.6" fill="#808080"/>
<circle cx="329.9" cy="627.3" r="4.09" fill="url(#hl)"/>
<circle cx="345.7" cy="615.9" r="6.6" fill="#808080"/>
<circle cx="343.8" cy="613.8" r="4.09" fill="url(#hl)"/>
<circle cx="358.8" cy="622.0" r="6.6" fill="#808080"/>
<circle cx="356.9" cy="619.9" r="4.09" fill="url(#hl)"/>
<circle cx="371.9" cy="665.5" r="6.6" fill="#808080"/>
<circle cx="370.0" cy="663.4" r="4.09" fill="url(#hl)"/>
<circle cx="385.4" cy="661.0" r="6.6" fill="#808080"/>
<circle cx="383.5" cy="658.9" r="4.09" fill="url(#hl)"/>
<circle cx="402.8" cy="664.8" r="6.6" fill="#808080"/>
<circle cx="400.9" cy="662.7" r="4.09" fill="url(#hl)"/>
<circle cx="416.3" cy="647.9" r="6.6" fill="#808080"/>
<circle cx="414.4" cy="645.8" r="4.09" fill="url(#hl)"/>
<circle cx="429.1" cy="640.7" r="6.6" fill="#808080"/>
<circle cx="427.2" cy="638.6" r="4.09" fill="url(#hl)"/>
<circle cx="442.7" cy="616.8" r="6.6" fill="#808080"/>
<circle cx="440.8" cy="614.7" r="4.09" fill="url(#hl)"/>
<circle cx="455.9" cy="672.5" r="6.6" fill="#808080"/>
<circle cx="454.0" cy="670.4" r="4.09" fill="url(#hl)"/>
<circle cx="469.1" cy="657.2" r="6.6" fill="#808080"/>
<circle cx="467.2" cy="655.1" r="4.09" fill="url(#hl)"/>
<circle cx="482.2" cy="672.6" r="6.6" fill="#808080"/>
<circle cx="480.3" cy="670.5" r="4.09" fill="url(#hl)"/>
<circle cx="495.6" cy="636.2" r="6.6" fill="#808080"/>
<circle cx="493.7" cy="634.1" r="4.09" fill="url(#hl)"/>
<circle cx="509.1" cy="658.7" r="6.6" fill="#808080"/>
<circle cx="507.2" cy="656.6" r="4.09" fill="url(#hl)"/>
<circle cx="522.2" cy="647.5" r="6.6" fill="#808080"/>
<circle cx="520.3" cy="645.4" r="4.09" fill="url(#hl)"/>
<circle cx="535.1" cy="641.6" r="6.6" fill="#808080"/>
<circle cx="533.2" cy="639.5" r="4.09" fill="url(#hl)"/>
<circle cx="552.4" cy="658.7" r="6.6" fill="#808080"/>
<circle cx="550.5" cy="656.6" r="4.09" fill="url(#hl)"/>
<circle cx="566.0" cy="636.2" r="6.6" fill="#808080"/>
<circle cx="564.1" cy="634.1" r="4.09" fill="url(#hl)"/>
<circle cx="583.6" cy="646.8" r="6.6" fill="#808080"/>
<circle cx="581.7" cy="644.7" r="4.09" fill="url(#hl)"/>
<circle cx="592.6" cy="667.8" r="6.6" fill="#808080"/>
<circle cx="590.7" cy="665.7" r="4.09" fill="url(#hl)"/>
</g>
<rect x="63.5" y="582.9" width="533.7" height="173.89999999999998" fill="none" stroke="#000" stroke-width="2"/>
<line x1="57.8" y1="176.9" x2="63.5" y2="176.9" stroke="#000" stroke-width="2"/>
<text x="53.8" y="183.3" text-anchor="end" class="tk">0</text>
<line x1="57.8" y1="134.8" x2="63.5" y2="134.8" stroke="#000" stroke-width="2"/>
<text x="53.8" y="141.2" text-anchor="end" class="tk">10</text>
<line x1="57.8" y1="92.7" x2="63.5" y2="92.7" stroke="#000" stroke-width="2"/>
<text x="53.8" y="99.1" text-anchor="end" class="tk">20</text>
<line x1="57.8" y1="50.6" x2="63.5" y2="50.6" stroke="#000" stroke-width="2"/>
<text x="53.8" y="57.0" text-anchor="end" class="tk">30</text>
<line x1="57.8" y1="8.5" x2="63.5" y2="8.5" stroke="#000" stroke-width="2"/>
<text x="53.8" y="14.9" text-anchor="end" class="tk">40</text>
<line x1="597.2" y1="176.9" x2="602.8" y2="176.9" stroke="#000" stroke-width="2"/>
<text x="606.5" y="183.3" class="tk">80</text>
<line x1="597.2" y1="134.8" x2="602.8" y2="134.8" stroke="#000" stroke-width="2"/>
<text x="606.5" y="141.2" class="tk">85</text>
<line x1="597.2" y1="92.7" x2="602.8" y2="92.7" stroke="#000" stroke-width="2"/>
<text x="606.5" y="99.1" class="tk">90</text>
<line x1="597.2" y1="50.6" x2="602.8" y2="50.6" stroke="#000" stroke-width="2"/>
<text x="606.5" y="57.0" class="tk">95</text>
<line x1="597.2" y1="8.5" x2="602.8" y2="8.5" stroke="#000" stroke-width="2"/>
<text x="606.5" y="14.9" class="tk">100</text>
<line x1="57.8" y1="369.4" x2="63.5" y2="369.4" stroke="#000" stroke-width="2"/>
<text x="53.8" y="375.8" text-anchor="end" class="tk">0</text>
<line x1="57.8" y1="335.6" x2="63.5" y2="335.6" stroke="#000" stroke-width="2"/>
<text x="53.8" y="342.0" text-anchor="end" class="tk">10</text>
<line x1="57.8" y1="301.8" x2="63.5" y2="301.8" stroke="#000" stroke-width="2"/>
<text x="53.8" y="308.2" text-anchor="end" class="tk">20</text>
<line x1="57.8" y1="267.9" x2="63.5" y2="267.9" stroke="#000" stroke-width="2"/>
<text x="53.8" y="274.3" text-anchor="end" class="tk">30</text>
<line x1="57.8" y1="234.1" x2="63.5" y2="234.1" stroke="#000" stroke-width="2"/>
<text x="53.8" y="240.5" text-anchor="end" class="tk">40</text>
<line x1="57.8" y1="200.3" x2="63.5" y2="200.3" stroke="#000" stroke-width="2"/>
<text x="53.8" y="206.7" text-anchor="end" class="tk">50</text>
<line x1="597.2" y1="369.4" x2="602.8" y2="369.4" stroke="#000" stroke-width="2"/>
<text x="606.5" y="375.8" class="tk">50</text>
<line x1="597.2" y1="335.6" x2="602.8" y2="335.6" stroke="#000" stroke-width="2"/>
<text x="606.5" y="342.0" class="tk">60</text>
<line x1="597.2" y1="301.8" x2="602.8" y2="301.8" stroke="#000" stroke-width="2"/>
<text x="606.5" y="308.2" class="tk">70</text>
<line x1="597.2" y1="267.9" x2="602.8" y2="267.9" stroke="#000" stroke-width="2"/>
<text x="606.5" y="274.3" class="tk">80</text>
<line x1="597.2" y1="234.1" x2="602.8" y2="234.1" stroke="#000" stroke-width="2"/>
<text x="606.5" y="240.5" class="tk">90</text>
<line x1="597.2" y1="200.3" x2="602.8" y2="200.3" stroke="#000" stroke-width="2"/>
<text x="606.5" y="206.7" class="tk">100</text>
<line x1="57.8" y1="560.0" x2="63.5" y2="560.0" stroke="#000" stroke-width="2"/>
<text x="53.8" y="566.4" text-anchor="end" class="tk">0</text>
<line x1="57.8" y1="517.7" x2="63.5" y2="517.7" stroke="#000" stroke-width="2"/>
<text x="53.8" y="524.1" text-anchor="end" class="tk">2</text>
<line x1="57.8" y1="475.4" x2="63.5" y2="475.4" stroke="#000" stroke-width="2"/>
<text x="53.8" y="481.8" text-anchor="end" class="tk">4</text>
<line x1="57.8" y1="433.1" x2="63.5" y2="433.1" stroke="#000" stroke-width="2"/>
<text x="53.8" y="439.5" text-anchor="end" class="tk">6</text>
<line x1="57.8" y1="390.8" x2="63.5" y2="390.8" stroke="#000" stroke-width="2"/>
<text x="53.8" y="397.2" text-anchor="end" class="tk">8</text>
<line x1="597.2" y1="560.0" x2="602.8" y2="560.0" stroke="#000" stroke-width="2"/>
<text x="606.5" y="566.4" class="tk">80</text>
<line x1="597.2" y1="517.7" x2="602.8" y2="517.7" stroke="#000" stroke-width="2"/>
<text x="606.5" y="524.1" class="tk">85</text>
<line x1="597.2" y1="475.4" x2="602.8" y2="475.4" stroke="#000" stroke-width="2"/>
<text x="606.5" y="481.8" class="tk">90</text>
<line x1="597.2" y1="433.1" x2="602.8" y2="433.1" stroke="#000" stroke-width="2"/>
<text x="606.5" y="439.5" class="tk">95</text>
<line x1="597.2" y1="390.8" x2="602.8" y2="390.8" stroke="#000" stroke-width="2"/>
<text x="606.5" y="397.2" class="tk">100</text>
<line x1="57.8" y1="752.4" x2="63.5" y2="752.4" stroke="#000" stroke-width="2"/>
<text x="53.8" y="758.8" text-anchor="end" class="tk">0</text>
<line x1="57.8" y1="718.5" x2="63.5" y2="718.5" stroke="#000" stroke-width="2"/>
<text x="53.8" y="724.9" text-anchor="end" class="tk">50</text>
<line x1="57.8" y1="684.6" x2="63.5" y2="684.6" stroke="#000" stroke-width="2"/>
<text x="53.8" y="691.0" text-anchor="end" class="tk">100</text>
<line x1="57.8" y1="650.7" x2="63.5" y2="650.7" stroke="#000" stroke-width="2"/>
<text x="53.8" y="657.1" text-anchor="end" class="tk">150</text>
<line x1="57.8" y1="616.8" x2="63.5" y2="616.8" stroke="#000" stroke-width="2"/>
<text x="53.8" y="623.2" text-anchor="end" class="tk">200</text>
<line x1="57.8" y1="582.9" x2="63.5" y2="582.9" stroke="#000" stroke-width="2"/>
<text x="53.8" y="589.3" text-anchor="end" class="tk">250</text>
<line x1="597.2" y1="752.4" x2="602.8" y2="752.4" stroke="#000" stroke-width="2"/>
<text x="606.5" y="758.8" class="tk">60</text>
<line x1="597.2" y1="710.0" x2="602.8" y2="710.0" stroke="#000" stroke-width="2"/>
<text x="606.5" y="716.4" class="tk">70</text>
<line x1="597.2" y1="667.6" x2="602.8" y2="667.6" stroke="#000" stroke-width="2"/>
<text x="606.5" y="674.0" class="tk">80</text>
<line x1="597.2" y1="625.3" x2="602.8" y2="625.3" stroke="#000" stroke-width="2"/>
<text x="606.5" y="631.7" class="tk">90</text>
<line x1="597.2" y1="582.9" x2="602.8" y2="582.9" stroke="#000" stroke-width="2"/>
<text x="606.5" y="589.3" class="tk">100</text>
<line x1="63.4" y1="756.8" x2="63.4" y2="762" stroke="#000" stroke-width="2"/>
<text x="63.4" y="780.3" text-anchor="middle" class="tk">0</text>
<line x1="151.6" y1="756.8" x2="151.6" y2="762" stroke="#000" stroke-width="2"/>
<text x="151.6" y="780.3" text-anchor="middle" class="tk">20</text>
<line x1="239.8" y1="756.8" x2="239.8" y2="762" stroke="#000" stroke-width="2"/>
<text x="239.8" y="780.3" text-anchor="middle" class="tk">40</text>
<line x1="328.0" y1="756.8" x2="328.0" y2="762" stroke="#000" stroke-width="2"/>
<text x="328.0" y="780.3" text-anchor="middle" class="tk">60</text>
<line x1="416.2" y1="756.8" x2="416.2" y2="762" stroke="#000" stroke-width="2"/>
<text x="416.2" y="780.3" text-anchor="middle" class="tk">80</text>
<line x1="504.4" y1="756.8" x2="504.4" y2="762" stroke="#000" stroke-width="2"/>
<text x="504.4" y="780.3" text-anchor="middle" class="tk">100</text>
<line x1="592.6" y1="756.8" x2="592.6" y2="762" stroke="#000" stroke-width="2"/>
<text x="592.6" y="780.3" text-anchor="middle" class="tk">120</text>
<text x="328.8" y="802.2" text-anchor="middle" class="tk">Time (day)</text>
<text x="74.3" y="49.8" class="lt">a</text>
<text x="74.3" y="229" class="lt">b</text>
<text x="74.3" y="419.2" class="lt">c</text>
<text x="74.3" y="608.3" class="lt">d</text>
<text transform="translate(15.8,83.1) rotate(-90)" text-anchor="middle" class="tk">NH<tspan font-size="12.5" dy="4.5">4</tspan><tspan font-size="12.5" dx="0.6" dy="-12.3">+</tspan><tspan dx="0.6" dy="7.8">-N</tspan> (mg/L)</text>
<text transform="translate(16,282.5) rotate(-90)" text-anchor="middle" class="tk">TN (mg/L)</text>
<text transform="translate(16,473.1) rotate(-90)" text-anchor="middle" class="tk">TP (mg/L)</text>
<text transform="translate(16,665) rotate(-90)" text-anchor="middle" class="tk">COD (mg/L)</text>
<text transform="translate(653.3,95.4) rotate(-90)" text-anchor="middle" class="tk">NH<tspan font-size="12.5" dy="4.5">4</tspan><tspan font-size="12.5" dx="0.6" dy="-12.3">+</tspan><tspan dx="0.6" dy="7.8">-N</tspan> removal</text>
<text transform="translate(680.8,95.3) rotate(-90)" text-anchor="middle" class="tk">efficiency (%)</text>
<text transform="translate(658.3,287.2) rotate(-90)" text-anchor="middle" class="tk">TN removal</text>
<text transform="translate(681.8,287.2) rotate(-90)" text-anchor="middle" class="tk">efficiency (%)</text>
<text transform="translate(658.3,473) rotate(-90)" text-anchor="middle" class="tk">TP removal</text>
<text transform="translate(681.8,473) rotate(-90)" text-anchor="middle" class="tk">efficiency (%)</text>
<text transform="translate(658.3,669) rotate(-90)" text-anchor="middle" class="tk">COD removal</text>
<text transform="translate(681.8,668.5) rotate(-90)" text-anchor="middle" class="tk">efficiency (%)</text>
<circle cx="139.3" cy="139.8" r="6.9" fill="#3a6b9f"/>
<circle cx="137.4" cy="137.7" r="4.28" fill="url(#hl)"/>
<text x="159.5" y="146.4" class="lg">Influent</text>
<circle cx="239.6" cy="139.8" r="5.7" fill="none" stroke="#ec8426" stroke-width="1.9"/>
<text x="259.8" y="146.4" class="lg">Effluent</text>
<line x1="335.3" y1="141.6" x2="369.0" y2="141.6" stroke="#c9252f" stroke-width="2"/>
<text x="372.2" y="146.4" class="lg">NH<tspan font-size="12" dy="5">4</tspan><tspan font-size="12" dx="0.5" dy="-11.3">+</tspan><tspan dx="0.4" dy="6.3">-N removal efficiency</tspan></text>
<circle cx="139.8" cy="215.0" r="6.9" fill="#c62229"/>
<circle cx="137.9" cy="212.9" r="4.28" fill="url(#hl)"/>
<text x="160.05" y="221.2" class="lg">Influent</text>
<circle cx="240.0" cy="215.0" r="5.7" fill="none" stroke="#2424f0" stroke-width="1.9"/>
<text x="260.35" y="221.2" class="lg">Effluent</text>
<line x1="336.0" y1="215.1" x2="369.9" y2="215.1" stroke="#111111" stroke-width="2"/>
<text x="373.5" y="221.2" class="lg">TN removal efficiency</text>
<circle cx="135.9" cy="406.3" r="6.9" fill="#66985b"/>
<circle cx="134.0" cy="404.2" r="4.28" fill="url(#hl)"/>
<text x="156.5" y="412.8" class="lg">Influent</text>
<circle cx="236.2" cy="406.3" r="5.7" fill="none" stroke="#d42020" stroke-width="1.9"/>
<text x="256.8" y="412.8" class="lg">Effluent</text>
<line x1="333.4" y1="406.8" x2="367.6" y2="406.8" stroke="#2626e8" stroke-width="2"/>
<text x="370.8" y="412.8" class="lg">TP removal efficiency</text>
<circle cx="137.0" cy="596.7" r="6.9" fill="#808080"/>
<circle cx="135.1" cy="594.6" r="4.28" fill="url(#hl)"/>
<text x="157.6" y="603.2" class="lg">Influent</text>
<circle cx="237.2" cy="596.7" r="5.7" fill="none" stroke="#38a52c" stroke-width="1.9"/>
<text x="257.9" y="603.2" class="lg">Effluent</text>
<line x1="336.8" y1="597.1" x2="370.2" y2="597.1" stroke="#e8822a" stroke-width="2"/>
<text x="373.6" y="603.2" class="lg">COD removal efficiency</text>
</svg>
</body></html>
